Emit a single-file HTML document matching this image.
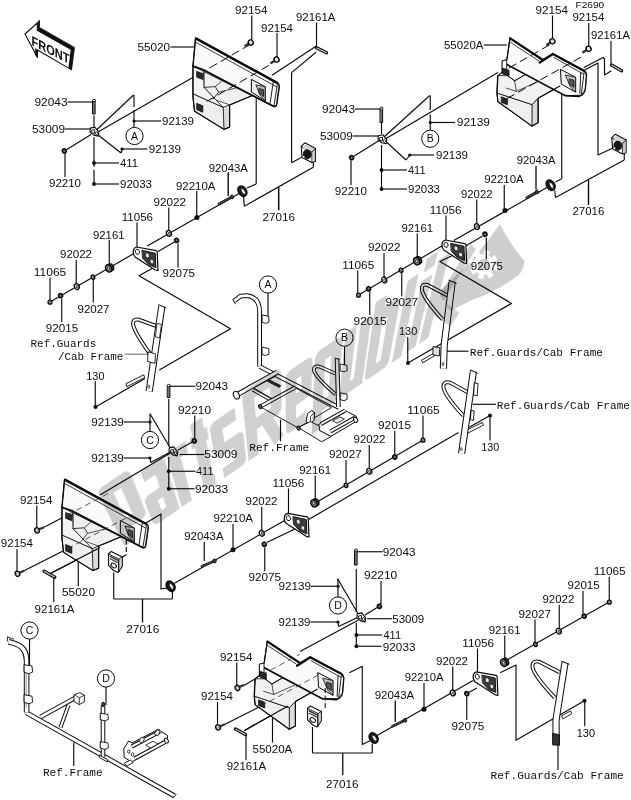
<!DOCTYPE html><html><head><meta charset="utf-8"><title>Parts diagram</title>
<style>html,body{margin:0;padding:0;background:#fff}body{position:relative;width:631px;height:800px;overflow:hidden}svg{display:block;filter:grayscale(1)}.s{font-family:"Liberation Sans",sans-serif;fill:#0c0c0c}.m{font-family:"Liberation Mono",monospace;fill:#0c0c0c}.w{font-family:"Liberation Sans",sans-serif;font-weight:bold;fill:#d2d2d2}</style></head><body>
<svg width="631" height="800" viewBox="0 0 631 800">
<rect width="631" height="800" fill="#fff"/>
<line x1="67.50" y1="102.00" x2="92.50" y2="102.00" stroke="#0a0a0a" stroke-width="1.15" />
<polygon points="92.90,100.50 95.10,100.50 95.10,114.00 92.90,114.00" fill="#777" stroke="#0a0a0a" stroke-width="1.0" stroke-linejoin="round" stroke-linecap="round" />
<ellipse cx="94.00" cy="100.50" rx="1.5" ry="1.2" transform="rotate(0 94.00 100.50)" fill="#fff" stroke="#0a0a0a" stroke-width="0.9"/>
<line x1="65.00" y1="129.00" x2="90.00" y2="129.00" stroke="#0a0a0a" stroke-width="1.15" />
<line x1="94.00" y1="115.50" x2="94.00" y2="127.00" stroke="#0a0a0a" stroke-width="1.15" />
<line x1="94.00" y1="137.00" x2="94.00" y2="167.00" stroke="#0a0a0a" stroke-width="1.15" />
<line x1="94.00" y1="169.80" x2="94.00" y2="184.00" stroke="#0a0a0a" stroke-width="1.15" />
<circle cx="94.00" cy="163.00" r="1.9" fill="#0a0a0a"/>
<circle cx="94.00" cy="184.00" r="1.9" fill="#0a0a0a"/>
<line x1="94.00" y1="163.00" x2="119.00" y2="163.00" stroke="#0a0a0a" stroke-width="1.15" />
<line x1="94.00" y1="184.00" x2="119.00" y2="184.00" stroke="#0a0a0a" stroke-width="1.15" />
<line x1="65.00" y1="154.00" x2="65.00" y2="177.00" stroke="#0a0a0a" stroke-width="1.15" />
<ellipse cx="64.30" cy="151.00" rx="1.8900000000000001" ry="2.1" transform="rotate(-25 64.30 151.00)" fill="#777" stroke="#0a0a0a" stroke-width="1.6"/>
<line x1="66.00" y1="150.00" x2="91.00" y2="134.50" stroke="#0a0a0a" stroke-width="1.15" />
<line x1="96.50" y1="130.00" x2="133.50" y2="95.00" stroke="#0a0a0a" stroke-width="1.15" />
<line x1="97.00" y1="132.50" x2="195.40" y2="76.00" stroke="#0a0a0a" stroke-width="1.15" />
<line x1="134.00" y1="95.00" x2="134.00" y2="107.00" stroke="#0a0a0a" stroke-width="1.15" />
<line x1="134.00" y1="110.00" x2="134.00" y2="127.40" stroke="#0a0a0a" stroke-width="1.15" />
<circle cx="134.00" cy="121.00" r="1.6" fill="#0a0a0a"/>
<line x1="134.00" y1="121.00" x2="161.00" y2="121.00" stroke="#0a0a0a" stroke-width="1.15" />
<line x1="97.50" y1="134.50" x2="121.00" y2="153.00" stroke="#0a0a0a" stroke-width="1.15" />
<line x1="121.00" y1="153.00" x2="122.00" y2="149.50" stroke="#0a0a0a" stroke-width="1.15" />
<circle cx="122.00" cy="149.00" r="1.6" fill="#0a0a0a"/>
<line x1="122.00" y1="149.00" x2="147.50" y2="149.00" stroke="#0a0a0a" stroke-width="1.15" />
<polygon points="90.30,128.10 94.80,127.10 98.80,132.10 98.30,136.10 93.80,135.10 90.10,132.10" fill="#fff" stroke="#0a0a0a" stroke-width="1.1" stroke-linejoin="round" stroke-linecap="round" />
<polygon points="92.10,130.10 94.60,129.60 94.60,133.40 92.10,132.80" fill="#fff" stroke="#0a0a0a" stroke-width="0.9" stroke-linejoin="round" stroke-linecap="round" />
<ellipse cx="96.50" cy="133.20" rx="1.1" ry="1.5" transform="rotate(0 96.50 133.20)" fill="#fff" stroke="#0a0a0a" stroke-width="0.8"/>
<line x1="170.50" y1="47.00" x2="195.50" y2="47.00" stroke="#0a0a0a" stroke-width="1.15" />
<line x1="251.75" y1="15.50" x2="251.75" y2="40.00" stroke="#0a0a0a" stroke-width="1.15" />
<line x1="249.30" y1="43.20" x2="244.80" y2="46.20" stroke="#333" stroke-width="2.0" />
<ellipse cx="250.80" cy="42.40" rx="2.3" ry="2.6" transform="rotate(-30 250.80 42.40)" fill="#e4e4e4" stroke="#0a0a0a" stroke-width="1.2"/>
<line x1="277.00" y1="33.00" x2="277.00" y2="57.00" stroke="#0a0a0a" stroke-width="1.15" />
<line x1="275.10" y1="60.40" x2="270.60" y2="63.40" stroke="#333" stroke-width="2.0" />
<ellipse cx="276.60" cy="59.60" rx="2.3" ry="2.6" transform="rotate(-30 276.60 59.60)" fill="#e4e4e4" stroke="#0a0a0a" stroke-width="1.2"/>
<line x1="316.50" y1="22.50" x2="316.50" y2="46.50" stroke="#0a0a0a" stroke-width="1.15" />
<line x1="316.50" y1="47.80" x2="326.50" y2="52.80" stroke="#0a0a0a" stroke-width="3.4" stroke-linecap="round"/>
<line x1="316.80" y1="48.00" x2="326.20" y2="52.60" stroke="#bdbdbd" stroke-width="1.3" stroke-linecap="round"/>
<line x1="316.00" y1="46.20" x2="272.00" y2="75.30" stroke="#0a0a0a" stroke-width="1.15" />
<line x1="316.00" y1="52.30" x2="291.60" y2="72.60" stroke="#0a0a0a" stroke-width="1.15" />
<line x1="291.60" y1="72.60" x2="291.60" y2="162.80" stroke="#0a0a0a" stroke-width="1.15" />
<line x1="291.60" y1="162.80" x2="301.20" y2="157.60" stroke="#0a0a0a" stroke-width="1.15" />
<line x1="256.20" y1="98.50" x2="256.20" y2="184.00" stroke="#0a0a0a" stroke-width="1.15" />
<line x1="256.20" y1="184.00" x2="247.00" y2="188.00" stroke="#0a0a0a" stroke-width="1.15" />
<line x1="313.30" y1="162.00" x2="313.30" y2="167.20" stroke="#0a0a0a" stroke-width="1.15" />
<line x1="313.30" y1="167.20" x2="244.30" y2="206.20" stroke="#0a0a0a" stroke-width="1.15" />
<line x1="244.30" y1="206.20" x2="243.60" y2="197.00" stroke="#0a0a0a" stroke-width="1.15" />
<line x1="278.70" y1="187.20" x2="278.70" y2="210.30" stroke="#0a0a0a" stroke-width="1.5" />
<line x1="228.20" y1="172.20" x2="228.20" y2="196.00" stroke="#0a0a0a" stroke-width="1.4" />
<line x1="238.50" y1="193.80" x2="147.20" y2="245.90" stroke="#0a0a0a" stroke-width="1.15" />
<ellipse cx="242.40" cy="191.20" rx="4.1" ry="5.6" transform="rotate(-32 242.40 191.20)" fill="#1c1c1c" stroke="#0a0a0a" stroke-width="1.4"/>
<ellipse cx="243.30" cy="191.40" rx="1.5" ry="3.3" transform="rotate(-32 243.30 191.40)" fill="#f4f4f4" stroke="#0a0a0a" stroke-width="0.6"/>
<line x1="219.00" y1="203.90" x2="231.50" y2="197.20" stroke="#222" stroke-width="2.8" stroke-linecap="round"/>
<line x1="219.00" y1="203.90" x2="231.50" y2="197.20" stroke="#999" stroke-width="0.8" stroke-dasharray="1 1.4"/>
<ellipse cx="232.10" cy="196.90" rx="1.6" ry="2.0" transform="rotate(-30 232.10 196.90)" fill="#444" stroke="#0a0a0a" stroke-width="0.8"/>
<line x1="196.75" y1="191.00" x2="196.75" y2="215.50" stroke="#0a0a0a" stroke-width="1.15" />
<circle cx="196.90" cy="217.50" r="2.5" fill="#0a0a0a"/>
<line x1="168.75" y1="207.50" x2="168.75" y2="230.50" stroke="#0a0a0a" stroke-width="1.15" />
<ellipse cx="168.90" cy="233.40" rx="2.34" ry="3.0" transform="rotate(-25 168.90 233.40)" fill="#fff" stroke="#0a0a0a" stroke-width="1.3"/>
<ellipse cx="169.30" cy="233.60" rx="0.8999999999999999" ry="1.35" transform="rotate(-25 169.30 233.60)" fill="#fff" stroke="#0a0a0a" stroke-width="0.8"/>
<line x1="174.50" y1="242.00" x2="158.00" y2="251.60" stroke="#0a0a0a" stroke-width="1.15" />
<ellipse cx="176.60" cy="240.40" rx="1.8900000000000001" ry="2.1" transform="rotate(-25 176.60 240.40)" fill="#777" stroke="#0a0a0a" stroke-width="1.6"/>
<line x1="178.00" y1="243.50" x2="178.00" y2="267.50" stroke="#0a0a0a" stroke-width="1.15" />
<line x1="137.00" y1="222.50" x2="137.00" y2="247.50" stroke="#0a0a0a" stroke-width="1.15" />
<line x1="133.90" y1="253.50" x2="50.00" y2="302.00" stroke="#0a0a0a" stroke-width="1.15" />
<line x1="109.25" y1="240.00" x2="109.25" y2="263.50" stroke="#0a0a0a" stroke-width="1.15" />
<ellipse cx="110.60" cy="267.30" rx="2.8" ry="3.8" transform="rotate(-25 110.60 267.30)" fill="#444" stroke="#0a0a0a" stroke-width="1.3"/>
<ellipse cx="108.60" cy="268.40" rx="2.8" ry="3.8" transform="rotate(-25 108.60 268.40)" fill="#8a8a8a" stroke="#0a0a0a" stroke-width="1.4"/>
<ellipse cx="108.60" cy="268.40" rx="1.1" ry="1.7" transform="rotate(-25 108.60 268.40)" fill="#e8e8e8" stroke="#0a0a0a" stroke-width="0.7"/>
<line x1="93.25" y1="279.50" x2="93.25" y2="302.50" stroke="#0a0a0a" stroke-width="1.15" />
<ellipse cx="93.00" cy="277.20" rx="1.7160000000000002" ry="2.2" transform="rotate(-25 93.00 277.20)" fill="#fff" stroke="#0a0a0a" stroke-width="1.3"/>
<ellipse cx="93.40" cy="277.40" rx="0.66" ry="0.9900000000000001" transform="rotate(-25 93.40 277.40)" fill="#fff" stroke="#0a0a0a" stroke-width="0.8"/>
<line x1="76.25" y1="260.00" x2="76.25" y2="283.50" stroke="#0a0a0a" stroke-width="1.15" />
<ellipse cx="76.80" cy="286.60" rx="2.34" ry="3.0" transform="rotate(-25 76.80 286.60)" fill="#fff" stroke="#0a0a0a" stroke-width="1.3"/>
<ellipse cx="77.20" cy="286.80" rx="0.8999999999999999" ry="1.35" transform="rotate(-25 77.20 286.80)" fill="#fff" stroke="#0a0a0a" stroke-width="0.8"/>
<line x1="61.75" y1="298.50" x2="61.75" y2="322.00" stroke="#0a0a0a" stroke-width="1.15" />
<ellipse cx="60.60" cy="295.60" rx="1.8900000000000001" ry="2.1" transform="rotate(-25 60.60 295.60)" fill="#777" stroke="#0a0a0a" stroke-width="1.6"/>
<line x1="50.00" y1="277.50" x2="50.00" y2="300.00" stroke="#0a0a0a" stroke-width="1.15" />
<ellipse cx="50.00" cy="302.20" rx="2.0" ry="2.0" transform="rotate(0 50.00 302.20)" fill="#888" stroke="#0a0a0a" stroke-width="1.2"/>
<polyline points="151.70,268.70 139.00,275.70 230.50,328.75 159.70,369.70" fill="none" stroke="#0a0a0a" stroke-width="1.15" stroke-linejoin="round" stroke-linecap="round" />
<line x1="124.70" y1="354.20" x2="148.30" y2="354.20" stroke="#777" stroke-width="1.15" />
<line x1="95.25" y1="381.25" x2="95.25" y2="406.00" stroke="#0a0a0a" stroke-width="1.15" />
<circle cx="95.50" cy="407.00" r="2.0" fill="#0a0a0a"/>
<line x1="95.50" y1="407.00" x2="145.00" y2="378.60" stroke="#0a0a0a" stroke-width="1.15" />
<line x1="355.00" y1="109.00" x2="380.00" y2="109.00" stroke="#0a0a0a" stroke-width="1.15" />
<polygon points="380.40,108.20 382.60,108.20 382.60,122.50 380.40,122.50" fill="#777" stroke="#0a0a0a" stroke-width="1.0" stroke-linejoin="round" stroke-linecap="round" />
<ellipse cx="381.50" cy="108.20" rx="1.5" ry="1.2" transform="rotate(0 381.50 108.20)" fill="#fff" stroke="#0a0a0a" stroke-width="0.9"/>
<line x1="352.75" y1="136.00" x2="378.00" y2="136.00" stroke="#0a0a0a" stroke-width="1.15" />
<line x1="381.50" y1="123.00" x2="381.50" y2="134.00" stroke="#0a0a0a" stroke-width="1.15" />
<line x1="381.50" y1="145.00" x2="381.50" y2="189.00" stroke="#0a0a0a" stroke-width="1.15" />
<circle cx="381.50" cy="170.00" r="1.9" fill="#0a0a0a"/>
<circle cx="381.50" cy="189.00" r="1.9" fill="#0a0a0a"/>
<line x1="381.50" y1="170.00" x2="407.00" y2="170.00" stroke="#0a0a0a" stroke-width="1.15" />
<line x1="381.50" y1="189.00" x2="407.00" y2="189.00" stroke="#0a0a0a" stroke-width="1.15" />
<line x1="351.00" y1="160.50" x2="351.00" y2="185.00" stroke="#0a0a0a" stroke-width="1.15" />
<ellipse cx="351.60" cy="157.60" rx="1.8900000000000001" ry="2.1" transform="rotate(-25 351.60 157.60)" fill="#777" stroke="#0a0a0a" stroke-width="1.6"/>
<line x1="353.50" y1="156.50" x2="379.50" y2="140.30" stroke="#0a0a0a" stroke-width="1.15" />
<line x1="384.00" y1="137.00" x2="429.75" y2="95.50" stroke="#0a0a0a" stroke-width="1.15" />
<line x1="385.20" y1="139.00" x2="498.00" y2="72.50" stroke="#0a0a0a" stroke-width="1.15" />
<line x1="430.25" y1="95.50" x2="430.25" y2="110.00" stroke="#0a0a0a" stroke-width="1.15" />
<line x1="430.25" y1="114.50" x2="430.25" y2="130.00" stroke="#0a0a0a" stroke-width="1.15" />
<circle cx="430.25" cy="122.50" r="1.6" fill="#0a0a0a"/>
<line x1="430.25" y1="122.50" x2="455.00" y2="122.50" stroke="#0a0a0a" stroke-width="1.15" />
<line x1="387.00" y1="142.50" x2="406.00" y2="160.00" stroke="#0a0a0a" stroke-width="1.15" />
<line x1="406.00" y1="160.00" x2="409.50" y2="155.50" stroke="#0a0a0a" stroke-width="1.15" />
<circle cx="409.75" cy="155.00" r="1.6" fill="#0a0a0a"/>
<line x1="409.75" y1="155.00" x2="434.00" y2="155.00" stroke="#0a0a0a" stroke-width="1.15" />
<polygon points="378.20,135.70 382.70,134.70 386.70,139.70 386.20,143.70 381.70,142.70 378.00,139.70" fill="#fff" stroke="#0a0a0a" stroke-width="1.1" stroke-linejoin="round" stroke-linecap="round" />
<polygon points="380.00,137.70 382.50,137.20 382.50,141.00 380.00,140.40" fill="#fff" stroke="#0a0a0a" stroke-width="0.9" stroke-linejoin="round" stroke-linecap="round" />
<ellipse cx="384.40" cy="140.80" rx="1.1" ry="1.5" transform="rotate(0 384.40 140.80)" fill="#fff" stroke="#0a0a0a" stroke-width="0.8"/>
<line x1="483.80" y1="45.00" x2="506.80" y2="45.00" stroke="#0a0a0a" stroke-width="1.15" />
<line x1="552.50" y1="15.50" x2="552.50" y2="38.50" stroke="#0a0a0a" stroke-width="1.15" />
<line x1="550.90" y1="42.10" x2="546.40" y2="45.10" stroke="#333" stroke-width="2.0" />
<ellipse cx="552.40" cy="41.30" rx="2.3" ry="2.6" transform="rotate(-30 552.40 41.30)" fill="#e4e4e4" stroke="#0a0a0a" stroke-width="1.2"/>
<line x1="588.75" y1="23.00" x2="588.75" y2="46.00" stroke="#0a0a0a" stroke-width="1.15" />
<line x1="587.10" y1="49.60" x2="582.60" y2="52.60" stroke="#333" stroke-width="2.0" />
<ellipse cx="588.60" cy="48.80" rx="2.3" ry="2.6" transform="rotate(-30 588.60 48.80)" fill="#e4e4e4" stroke="#0a0a0a" stroke-width="1.2"/>
<line x1="611.00" y1="41.00" x2="611.00" y2="63.50" stroke="#0a0a0a" stroke-width="1.15" />
<line x1="611.50" y1="65.00" x2="621.50" y2="70.80" stroke="#0a0a0a" stroke-width="3.4" stroke-linecap="round"/>
<line x1="611.80" y1="65.20" x2="621.20" y2="70.60" stroke="#bdbdbd" stroke-width="1.3" stroke-linecap="round"/>
<polyline points="584.00,67.50 603.00,57.50 604.50,59.00 604.50,75.00 611.00,71.00" fill="none" stroke="#0a0a0a" stroke-width="1.15" stroke-linejoin="round" stroke-linecap="round" />
<polyline points="585.00,69.70 598.00,63.00 598.00,155.00 612.50,148.30" fill="none" stroke="#0a0a0a" stroke-width="1.15" stroke-linejoin="round" stroke-linecap="round" />
<line x1="624.25" y1="153.75" x2="624.25" y2="160.00" stroke="#0a0a0a" stroke-width="1.15" />
<line x1="624.25" y1="160.00" x2="555.50" y2="197.50" stroke="#0a0a0a" stroke-width="1.15" />
<line x1="555.50" y1="197.50" x2="554.80" y2="190.50" stroke="#0a0a0a" stroke-width="1.15" />
<line x1="588.50" y1="179.80" x2="588.50" y2="205.00" stroke="#0a0a0a" stroke-width="1.4" />
<line x1="561.75" y1="90.00" x2="561.75" y2="178.75" stroke="#0a0a0a" stroke-width="1.15" />
<line x1="561.75" y1="178.75" x2="555.50" y2="182.00" stroke="#0a0a0a" stroke-width="1.15" />
<line x1="536.00" y1="166.00" x2="536.00" y2="189.50" stroke="#0a0a0a" stroke-width="1.3" />
<line x1="546.50" y1="187.70" x2="453.80" y2="240.50" stroke="#0a0a0a" stroke-width="1.15" />
<ellipse cx="550.60" cy="185.20" rx="4.1" ry="5.6" transform="rotate(-32 550.60 185.20)" fill="#1c1c1c" stroke="#0a0a0a" stroke-width="1.4"/>
<ellipse cx="551.50" cy="185.40" rx="1.5" ry="3.3" transform="rotate(-32 551.50 185.40)" fill="#f4f4f4" stroke="#0a0a0a" stroke-width="0.6"/>
<line x1="526.80" y1="197.60" x2="536.50" y2="192.20" stroke="#222" stroke-width="2.8" stroke-linecap="round"/>
<line x1="526.80" y1="197.60" x2="536.50" y2="192.20" stroke="#999" stroke-width="0.8" stroke-dasharray="1 1.4"/>
<ellipse cx="537.10" cy="191.90" rx="1.6" ry="2.0" transform="rotate(-30 537.10 191.90)" fill="#444" stroke="#0a0a0a" stroke-width="0.8"/>
<line x1="504.25" y1="185.00" x2="504.25" y2="208.50" stroke="#0a0a0a" stroke-width="1.15" />
<circle cx="505.00" cy="210.40" r="2.5" fill="#0a0a0a"/>
<line x1="476.75" y1="199.50" x2="476.75" y2="223.50" stroke="#0a0a0a" stroke-width="1.15" />
<ellipse cx="476.90" cy="226.60" rx="2.34" ry="3.0" transform="rotate(-25 476.90 226.60)" fill="#fff" stroke="#0a0a0a" stroke-width="1.3"/>
<ellipse cx="477.30" cy="226.80" rx="0.8999999999999999" ry="1.35" transform="rotate(-25 477.30 226.80)" fill="#fff" stroke="#0a0a0a" stroke-width="0.8"/>
<line x1="482.70" y1="236.00" x2="466.00" y2="245.70" stroke="#0a0a0a" stroke-width="1.15" />
<ellipse cx="485.00" cy="234.20" rx="1.8900000000000001" ry="2.1" transform="rotate(-25 485.00 234.20)" fill="#777" stroke="#0a0a0a" stroke-width="1.6"/>
<line x1="486.30" y1="237.50" x2="486.30" y2="259.50" stroke="#0a0a0a" stroke-width="1.15" />
<line x1="446.00" y1="215.50" x2="446.00" y2="240.00" stroke="#0a0a0a" stroke-width="1.15" />
<line x1="443.50" y1="245.00" x2="358.50" y2="295.00" stroke="#0a0a0a" stroke-width="1.15" />
<line x1="417.25" y1="233.50" x2="417.25" y2="257.00" stroke="#0a0a0a" stroke-width="1.15" />
<ellipse cx="418.60" cy="260.10" rx="2.8" ry="3.8" transform="rotate(-25 418.60 260.10)" fill="#444" stroke="#0a0a0a" stroke-width="1.3"/>
<ellipse cx="416.60" cy="261.20" rx="2.8" ry="3.8" transform="rotate(-25 416.60 261.20)" fill="#8a8a8a" stroke="#0a0a0a" stroke-width="1.4"/>
<ellipse cx="416.60" cy="261.20" rx="1.1" ry="1.7" transform="rotate(-25 416.60 261.20)" fill="#e8e8e8" stroke="#0a0a0a" stroke-width="0.7"/>
<line x1="401.75" y1="272.50" x2="401.75" y2="296.25" stroke="#0a0a0a" stroke-width="1.15" />
<ellipse cx="401.10" cy="270.40" rx="1.7160000000000002" ry="2.2" transform="rotate(-25 401.10 270.40)" fill="#fff" stroke="#0a0a0a" stroke-width="1.3"/>
<ellipse cx="401.50" cy="270.60" rx="0.66" ry="0.9900000000000001" transform="rotate(-25 401.50 270.60)" fill="#fff" stroke="#0a0a0a" stroke-width="0.8"/>
<line x1="384.00" y1="253.00" x2="384.00" y2="277.00" stroke="#0a0a0a" stroke-width="1.15" />
<ellipse cx="384.30" cy="280.00" rx="2.34" ry="3.0" transform="rotate(-25 384.30 280.00)" fill="#fff" stroke="#0a0a0a" stroke-width="1.3"/>
<ellipse cx="384.70" cy="280.20" rx="0.8999999999999999" ry="1.35" transform="rotate(-25 384.70 280.20)" fill="#fff" stroke="#0a0a0a" stroke-width="0.8"/>
<line x1="369.75" y1="291.50" x2="369.75" y2="315.00" stroke="#0a0a0a" stroke-width="1.15" />
<ellipse cx="368.60" cy="288.80" rx="1.8900000000000001" ry="2.1" transform="rotate(-25 368.60 288.80)" fill="#777" stroke="#0a0a0a" stroke-width="1.6"/>
<line x1="357.75" y1="270.50" x2="357.75" y2="293.00" stroke="#0a0a0a" stroke-width="1.15" />
<ellipse cx="358.50" cy="295.20" rx="2.0" ry="2.0" transform="rotate(0 358.50 295.20)" fill="#888" stroke="#0a0a0a" stroke-width="1.2"/>
<polyline points="453.00,255.30 439.90,261.40 511.50,303.40 408.30,362.80" fill="none" stroke="#0a0a0a" stroke-width="1.15" stroke-linejoin="round" stroke-linecap="round" />
<line x1="447.00" y1="351.20" x2="468.50" y2="351.20" stroke="#0a0a0a" stroke-width="1.15" />
<line x1="407.75" y1="337.00" x2="407.75" y2="361.50" stroke="#0a0a0a" stroke-width="1.15" />
<circle cx="408.00" cy="363.00" r="2.0" fill="#0a0a0a"/>
<polygon points="167.65,385.50 169.85,385.50 169.85,397.50 167.65,397.50" fill="#777" stroke="#0a0a0a" stroke-width="1.0" stroke-linejoin="round" stroke-linecap="round" />
<ellipse cx="168.75" cy="385.50" rx="1.5" ry="1.2" transform="rotate(0 168.75 385.50)" fill="#fff" stroke="#0a0a0a" stroke-width="0.9"/>
<line x1="170.00" y1="386.25" x2="195.50" y2="386.25" stroke="#0a0a0a" stroke-width="1.15" />
<line x1="168.75" y1="399.00" x2="168.75" y2="446.00" stroke="#0a0a0a" stroke-width="1.15" />
<line x1="168.75" y1="457.00" x2="168.75" y2="488.75" stroke="#0a0a0a" stroke-width="1.15" />
<circle cx="168.75" cy="471.25" r="1.9" fill="#0a0a0a"/>
<circle cx="168.75" cy="488.75" r="1.9" fill="#0a0a0a"/>
<line x1="168.75" y1="471.25" x2="195.50" y2="471.25" stroke="#0a0a0a" stroke-width="1.15" />
<line x1="168.75" y1="488.75" x2="194.50" y2="488.75" stroke="#0a0a0a" stroke-width="1.15" />
<line x1="179.50" y1="454.50" x2="204.25" y2="454.50" stroke="#0a0a0a" stroke-width="1.15" />
<line x1="194.75" y1="415.50" x2="194.75" y2="438.50" stroke="#0a0a0a" stroke-width="1.15" />
<ellipse cx="194.30" cy="440.80" rx="1.8900000000000001" ry="2.1" transform="rotate(-25 194.30 440.80)" fill="#777" stroke="#0a0a0a" stroke-width="1.6"/>
<line x1="192.20" y1="442.00" x2="178.00" y2="450.00" stroke="#0a0a0a" stroke-width="1.15" />
<line x1="123.75" y1="422.00" x2="150.00" y2="422.00" stroke="#0a0a0a" stroke-width="1.15" />
<circle cx="150.00" cy="422.00" r="1.6" fill="#0a0a0a"/>
<line x1="150.00" y1="413.75" x2="150.00" y2="431.40" stroke="#0a0a0a" stroke-width="1.15" />
<line x1="150.00" y1="413.75" x2="170.50" y2="448.50" stroke="#0a0a0a" stroke-width="1.15" />
<line x1="123.75" y1="458.00" x2="150.00" y2="458.00" stroke="#0a0a0a" stroke-width="1.15" />
<circle cx="150.00" cy="458.00" r="1.6" fill="#0a0a0a"/>
<line x1="150.00" y1="458.00" x2="150.80" y2="462.60" stroke="#0a0a0a" stroke-width="1.15" />
<line x1="150.80" y1="462.60" x2="169.00" y2="452.80" stroke="#0a0a0a" stroke-width="1.15" />
<line x1="170.00" y1="453.30" x2="100.00" y2="495.00" stroke="#0a0a0a" stroke-width="1.15" />
<polygon points="169.20,447.90 173.70,446.90 177.70,451.90 177.20,455.90 172.70,454.90 169.00,451.90" fill="#fff" stroke="#0a0a0a" stroke-width="1.1" stroke-linejoin="round" stroke-linecap="round" />
<polygon points="171.00,449.90 173.50,449.40 173.50,453.20 171.00,452.60" fill="#fff" stroke="#0a0a0a" stroke-width="0.9" stroke-linejoin="round" stroke-linecap="round" />
<ellipse cx="175.40" cy="453.00" rx="1.1" ry="1.5" transform="rotate(0 175.40 453.00)" fill="#fff" stroke="#0a0a0a" stroke-width="0.8"/>
<polyline points="146.00,523.00 161.00,514.00 161.00,588.90 167.00,588.00" fill="none" stroke="#0a0a0a" stroke-width="1.15" stroke-linejoin="round" stroke-linecap="round" />
<line x1="36.75" y1="505.50" x2="36.75" y2="527.50" stroke="#0a0a0a" stroke-width="1.15" />
<line x1="38.50" y1="529.60" x2="44.00" y2="527.20" stroke="#333" stroke-width="2.2" />
<ellipse cx="37.00" cy="530.40" rx="2.3" ry="2.7" transform="rotate(-25 37.00 530.40)" fill="#bbb" stroke="#0a0a0a" stroke-width="1.3"/>
<line x1="44.00" y1="527.20" x2="67.50" y2="515.00" stroke="#0a0a0a" stroke-width="1.15" />
<line x1="17.00" y1="549.00" x2="17.00" y2="571.00" stroke="#0a0a0a" stroke-width="1.15" />
<line x1="19.00" y1="573.00" x2="24.50" y2="570.60" stroke="#333" stroke-width="2.2" />
<ellipse cx="17.50" cy="573.80" rx="2.3" ry="2.7" transform="rotate(-25 17.50 573.80)" fill="#bbb" stroke="#0a0a0a" stroke-width="1.3"/>
<line x1="24.50" y1="570.50" x2="67.50" y2="548.75" stroke="#0a0a0a" stroke-width="1.15" />
<line x1="44.20" y1="571.20" x2="54.80" y2="577.20" stroke="#0a0a0a" stroke-width="3.4" stroke-linecap="round"/>
<line x1="44.50" y1="571.40" x2="54.50" y2="577.00" stroke="#bdbdbd" stroke-width="1.3" stroke-linecap="round"/>
<line x1="53.75" y1="578.00" x2="53.75" y2="602.00" stroke="#0a0a0a" stroke-width="1.15" />
<line x1="50.00" y1="573.80" x2="95.00" y2="550.50" stroke="#0a0a0a" stroke-width="1.15" />
<line x1="78.25" y1="560.00" x2="78.25" y2="586.25" stroke="#0a0a0a" stroke-width="1.15" />
<line x1="113.75" y1="572.50" x2="113.75" y2="599.00" stroke="#0a0a0a" stroke-width="1.15" />
<line x1="113.75" y1="599.00" x2="172.40" y2="599.00" stroke="#0a0a0a" stroke-width="1.15" />
<line x1="172.40" y1="599.00" x2="172.40" y2="592.00" stroke="#0a0a0a" stroke-width="1.15" />
<line x1="142.50" y1="599.00" x2="142.50" y2="622.50" stroke="#0a0a0a" stroke-width="1.3" />
<line x1="126.30" y1="532.00" x2="126.30" y2="554.70" stroke="#0a0a0a" stroke-width="1.15" stroke-dasharray="5 2.5"/>
<line x1="126.30" y1="554.70" x2="122.40" y2="557.00" stroke="#0a0a0a" stroke-width="1.15" />
<line x1="174.50" y1="583.20" x2="285.50" y2="520.00" stroke="#0a0a0a" stroke-width="1.15" />
<ellipse cx="170.60" cy="586.20" rx="4.1" ry="5.6" transform="rotate(-32 170.60 586.20)" fill="#1c1c1c" stroke="#0a0a0a" stroke-width="1.4"/>
<ellipse cx="171.50" cy="586.40" rx="1.5" ry="3.3" transform="rotate(-32 171.50 586.40)" fill="#f4f4f4" stroke="#0a0a0a" stroke-width="0.6"/>
<line x1="202.00" y1="566.20" x2="214.00" y2="561.20" stroke="#222" stroke-width="2.8" stroke-linecap="round"/>
<line x1="202.00" y1="566.20" x2="214.00" y2="561.20" stroke="#999" stroke-width="0.8" stroke-dasharray="1 1.4"/>
<ellipse cx="214.60" cy="560.90" rx="1.6" ry="2.0" transform="rotate(-30 214.60 560.90)" fill="#444" stroke="#0a0a0a" stroke-width="0.8"/>
<line x1="204.25" y1="542.00" x2="204.25" y2="561.00" stroke="#0a0a0a" stroke-width="1.15" />
<line x1="233.00" y1="524.00" x2="233.00" y2="547.50" stroke="#0a0a0a" stroke-width="1.15" />
<circle cx="233.00" cy="549.80" r="2.5" fill="#0a0a0a"/>
<line x1="261.75" y1="507.00" x2="261.75" y2="530.00" stroke="#0a0a0a" stroke-width="1.15" />
<ellipse cx="261.80" cy="533.30" rx="2.34" ry="3.0" transform="rotate(-25 261.80 533.30)" fill="#fff" stroke="#0a0a0a" stroke-width="1.3"/>
<ellipse cx="262.20" cy="533.50" rx="0.8999999999999999" ry="1.35" transform="rotate(-25 262.20 533.50)" fill="#fff" stroke="#0a0a0a" stroke-width="0.8"/>
<line x1="264.75" y1="547.50" x2="264.75" y2="571.25" stroke="#0a0a0a" stroke-width="1.15" />
<ellipse cx="264.30" cy="544.30" rx="1.8900000000000001" ry="2.1" transform="rotate(-25 264.30 544.30)" fill="#777" stroke="#0a0a0a" stroke-width="1.6"/>
<line x1="266.75" y1="542.50" x2="298.00" y2="527.50" stroke="#0a0a0a" stroke-width="1.15" />
<line x1="288.50" y1="488.50" x2="288.50" y2="513.75" stroke="#0a0a0a" stroke-width="1.15" />
<line x1="315.25" y1="475.50" x2="315.25" y2="499.00" stroke="#0a0a0a" stroke-width="1.15" />
<ellipse cx="315.90" cy="502.30" rx="2.8" ry="3.8" transform="rotate(-25 315.90 502.30)" fill="#444" stroke="#0a0a0a" stroke-width="1.3"/>
<ellipse cx="313.90" cy="503.40" rx="2.8" ry="3.8" transform="rotate(-25 313.90 503.40)" fill="#8a8a8a" stroke="#0a0a0a" stroke-width="1.4"/>
<ellipse cx="313.90" cy="503.40" rx="1.1" ry="1.7" transform="rotate(-25 313.90 503.40)" fill="#e8e8e8" stroke="#0a0a0a" stroke-width="0.7"/>
<line x1="317.00" y1="502.00" x2="423.00" y2="440.00" stroke="#0a0a0a" stroke-width="1.15" />
<line x1="346.00" y1="460.00" x2="346.00" y2="483.50" stroke="#0a0a0a" stroke-width="1.15" />
<ellipse cx="346.00" cy="485.40" rx="1.7160000000000002" ry="2.2" transform="rotate(-25 346.00 485.40)" fill="#fff" stroke="#0a0a0a" stroke-width="1.3"/>
<ellipse cx="346.40" cy="485.60" rx="0.66" ry="0.9900000000000001" transform="rotate(-25 346.40 485.60)" fill="#fff" stroke="#0a0a0a" stroke-width="0.8"/>
<line x1="369.25" y1="445.00" x2="369.25" y2="468.50" stroke="#0a0a0a" stroke-width="1.15" />
<ellipse cx="369.30" cy="471.30" rx="2.34" ry="3.0" transform="rotate(-25 369.30 471.30)" fill="#fff" stroke="#0a0a0a" stroke-width="1.3"/>
<ellipse cx="369.70" cy="471.50" rx="0.8999999999999999" ry="1.35" transform="rotate(-25 369.70 471.50)" fill="#fff" stroke="#0a0a0a" stroke-width="0.8"/>
<line x1="394.75" y1="431.00" x2="394.75" y2="454.50" stroke="#0a0a0a" stroke-width="1.15" />
<ellipse cx="394.80" cy="457.00" rx="1.8900000000000001" ry="2.1" transform="rotate(-25 394.80 457.00)" fill="#777" stroke="#0a0a0a" stroke-width="1.6"/>
<line x1="423.00" y1="415.50" x2="423.00" y2="438.50" stroke="#0a0a0a" stroke-width="1.15" />
<ellipse cx="423.00" cy="440.20" rx="2.0" ry="2.0" transform="rotate(0 423.00 440.20)" fill="#888" stroke="#0a0a0a" stroke-width="1.2"/>
<line x1="306.00" y1="521.00" x2="458.50" y2="432.50" stroke="#0a0a0a" stroke-width="1.15" />
<line x1="472.80" y1="404.30" x2="496.00" y2="404.30" stroke="#0a0a0a" stroke-width="1.15" />
<circle cx="490.00" cy="415.50" r="2.0" fill="#0a0a0a"/>
<line x1="490.00" y1="415.50" x2="490.00" y2="440.50" stroke="#0a0a0a" stroke-width="1.15" />
<line x1="490.00" y1="415.50" x2="468.80" y2="427.50" stroke="#0a0a0a" stroke-width="1.15" />
<polygon points="354.90,550.20 357.10,550.20 357.10,565.00 354.90,565.00" fill="#777" stroke="#0a0a0a" stroke-width="1.0" stroke-linejoin="round" stroke-linecap="round" />
<ellipse cx="356.00" cy="550.20" rx="1.5" ry="1.2" transform="rotate(0 356.00 550.20)" fill="#fff" stroke="#0a0a0a" stroke-width="0.9"/>
<line x1="357.25" y1="551.75" x2="382.75" y2="551.75" stroke="#0a0a0a" stroke-width="1.15" />
<line x1="356.30" y1="569.00" x2="356.30" y2="612.00" stroke="#0a0a0a" stroke-width="1.15" />
<line x1="356.30" y1="623.00" x2="356.30" y2="646.25" stroke="#0a0a0a" stroke-width="1.15" />
<circle cx="356.40" cy="635.00" r="1.9" fill="#0a0a0a"/>
<circle cx="356.40" cy="646.25" r="1.9" fill="#0a0a0a"/>
<line x1="356.40" y1="635.00" x2="382.25" y2="635.00" stroke="#0a0a0a" stroke-width="1.15" />
<line x1="356.40" y1="646.25" x2="381.50" y2="646.25" stroke="#0a0a0a" stroke-width="1.15" />
<line x1="367.25" y1="618.75" x2="392.00" y2="618.75" stroke="#0a0a0a" stroke-width="1.15" />
<line x1="381.00" y1="581.00" x2="381.00" y2="604.00" stroke="#0a0a0a" stroke-width="1.15" />
<ellipse cx="379.40" cy="606.30" rx="1.8900000000000001" ry="2.1" transform="rotate(-25 379.40 606.30)" fill="#777" stroke="#0a0a0a" stroke-width="1.6"/>
<line x1="377.20" y1="607.60" x2="365.00" y2="615.00" stroke="#0a0a0a" stroke-width="1.15" />
<line x1="311.00" y1="586.25" x2="338.00" y2="586.25" stroke="#0a0a0a" stroke-width="1.15" />
<circle cx="338.00" cy="586.25" r="1.6" fill="#0a0a0a"/>
<line x1="338.00" y1="578.75" x2="338.00" y2="596.90" stroke="#0a0a0a" stroke-width="1.15" />
<line x1="337.60" y1="578.75" x2="358.50" y2="614.50" stroke="#0a0a0a" stroke-width="1.15" />
<line x1="310.50" y1="622.00" x2="338.00" y2="622.00" stroke="#0a0a0a" stroke-width="1.15" />
<circle cx="338.00" cy="622.00" r="1.6" fill="#0a0a0a"/>
<line x1="338.00" y1="622.00" x2="338.60" y2="626.40" stroke="#0a0a0a" stroke-width="1.15" />
<line x1="338.60" y1="626.40" x2="357.50" y2="617.60" stroke="#0a0a0a" stroke-width="1.15" />
<line x1="358.50" y1="620.00" x2="300.00" y2="651.50" stroke="#0a0a0a" stroke-width="1.15" />
<polygon points="357.20,613.90 361.70,612.90 365.70,617.90 365.20,621.90 360.70,620.90 357.00,617.90" fill="#fff" stroke="#0a0a0a" stroke-width="1.1" stroke-linejoin="round" stroke-linecap="round" />
<polygon points="359.00,615.90 361.50,615.40 361.50,619.20 359.00,618.60" fill="#fff" stroke="#0a0a0a" stroke-width="0.9" stroke-linejoin="round" stroke-linecap="round" />
<ellipse cx="363.40" cy="619.00" rx="1.1" ry="1.5" transform="rotate(0 363.40 619.00)" fill="#fff" stroke="#0a0a0a" stroke-width="0.8"/>
<line x1="236.75" y1="662.50" x2="236.75" y2="685.00" stroke="#0a0a0a" stroke-width="1.15" />
<line x1="238.90" y1="687.20" x2="244.40" y2="684.80" stroke="#333" stroke-width="2.2" />
<ellipse cx="237.40" cy="688.00" rx="2.3" ry="2.7" transform="rotate(-25 237.40 688.00)" fill="#bbb" stroke="#0a0a0a" stroke-width="1.3"/>
<line x1="244.40" y1="685.20" x2="261.75" y2="675.00" stroke="#0a0a0a" stroke-width="1.15" />
<line x1="217.50" y1="702.00" x2="217.50" y2="723.75" stroke="#0a0a0a" stroke-width="1.15" />
<line x1="219.50" y1="726.60" x2="225.00" y2="724.20" stroke="#333" stroke-width="2.2" />
<ellipse cx="218.00" cy="727.40" rx="2.3" ry="2.7" transform="rotate(-25 218.00 727.40)" fill="#bbb" stroke="#0a0a0a" stroke-width="1.3"/>
<line x1="225.00" y1="724.20" x2="260.50" y2="706.25" stroke="#0a0a0a" stroke-width="1.15" />
<line x1="235.50" y1="729.00" x2="245.50" y2="734.60" stroke="#0a0a0a" stroke-width="3.4" stroke-linecap="round"/>
<line x1="235.80" y1="729.20" x2="245.20" y2="734.40" stroke="#bdbdbd" stroke-width="1.3" stroke-linecap="round"/>
<line x1="246.00" y1="735.50" x2="246.00" y2="760.00" stroke="#0a0a0a" stroke-width="1.15" />
<line x1="244.50" y1="730.50" x2="288.00" y2="706.00" stroke="#0a0a0a" stroke-width="1.15" />
<line x1="272.50" y1="717.50" x2="272.50" y2="742.50" stroke="#0a0a0a" stroke-width="1.15" />
<polyline points="349.75,672.50 362.25,666.25 362.25,744.50 369.50,741.00" fill="none" stroke="#0a0a0a" stroke-width="1.15" stroke-linejoin="round" stroke-linecap="round" />
<line x1="312.50" y1="727.00" x2="312.50" y2="753.00" stroke="#0a0a0a" stroke-width="1.15" />
<line x1="312.50" y1="753.00" x2="372.25" y2="753.00" stroke="#0a0a0a" stroke-width="1.15" />
<line x1="372.25" y1="753.00" x2="372.25" y2="743.50" stroke="#0a0a0a" stroke-width="1.15" />
<line x1="342.75" y1="753.00" x2="342.75" y2="775.00" stroke="#0a0a0a" stroke-width="1.3" />
<line x1="377.00" y1="735.60" x2="473.00" y2="680.50" stroke="#0a0a0a" stroke-width="1.15" />
<ellipse cx="373.60" cy="738.00" rx="4.1" ry="5.6" transform="rotate(-32 373.60 738.00)" fill="#1c1c1c" stroke="#0a0a0a" stroke-width="1.4"/>
<ellipse cx="374.50" cy="738.20" rx="1.5" ry="3.3" transform="rotate(-32 374.50 738.20)" fill="#f4f4f4" stroke="#0a0a0a" stroke-width="0.6"/>
<line x1="392.50" y1="726.20" x2="404.50" y2="720.60" stroke="#222" stroke-width="2.8" stroke-linecap="round"/>
<line x1="392.50" y1="726.20" x2="404.50" y2="720.60" stroke="#999" stroke-width="0.8" stroke-dasharray="1 1.4"/>
<ellipse cx="405.10" cy="720.30" rx="1.6" ry="2.0" transform="rotate(-30 405.10 720.30)" fill="#444" stroke="#0a0a0a" stroke-width="0.8"/>
<line x1="395.25" y1="700.50" x2="395.25" y2="722.00" stroke="#0a0a0a" stroke-width="1.3" />
<line x1="424.00" y1="683.00" x2="424.00" y2="707.50" stroke="#0a0a0a" stroke-width="1.15" />
<circle cx="424.00" cy="709.30" r="2.5" fill="#0a0a0a"/>
<line x1="452.75" y1="666.50" x2="452.75" y2="690.00" stroke="#0a0a0a" stroke-width="1.15" />
<ellipse cx="452.80" cy="693.00" rx="2.34" ry="3.0" transform="rotate(-25 452.80 693.00)" fill="#fff" stroke="#0a0a0a" stroke-width="1.3"/>
<ellipse cx="453.20" cy="693.20" rx="0.8999999999999999" ry="1.35" transform="rotate(-25 453.20 693.20)" fill="#fff" stroke="#0a0a0a" stroke-width="0.8"/>
<line x1="466.75" y1="696.25" x2="466.75" y2="720.00" stroke="#0a0a0a" stroke-width="1.15" />
<ellipse cx="466.80" cy="693.70" rx="1.8900000000000001" ry="2.1" transform="rotate(-25 466.80 693.70)" fill="#777" stroke="#0a0a0a" stroke-width="1.6"/>
<line x1="469.00" y1="692.30" x2="477.00" y2="688.00" stroke="#0a0a0a" stroke-width="1.15" />
<line x1="477.50" y1="648.50" x2="477.50" y2="673.75" stroke="#0a0a0a" stroke-width="1.15" />
<line x1="500.00" y1="664.00" x2="609.25" y2="602.00" stroke="#0a0a0a" stroke-width="1.15" />
<line x1="504.75" y1="635.50" x2="504.75" y2="658.50" stroke="#0a0a0a" stroke-width="1.15" />
<ellipse cx="505.60" cy="661.70" rx="2.8" ry="3.8" transform="rotate(-25 505.60 661.70)" fill="#444" stroke="#0a0a0a" stroke-width="1.3"/>
<ellipse cx="503.60" cy="662.80" rx="2.8" ry="3.8" transform="rotate(-25 503.60 662.80)" fill="#8a8a8a" stroke="#0a0a0a" stroke-width="1.4"/>
<ellipse cx="503.60" cy="662.80" rx="1.1" ry="1.7" transform="rotate(-25 503.60 662.80)" fill="#e8e8e8" stroke="#0a0a0a" stroke-width="0.7"/>
<line x1="535.00" y1="619.50" x2="535.00" y2="642.50" stroke="#0a0a0a" stroke-width="1.15" />
<ellipse cx="535.50" cy="644.40" rx="1.7160000000000002" ry="2.2" transform="rotate(-25 535.50 644.40)" fill="#fff" stroke="#0a0a0a" stroke-width="1.3"/>
<ellipse cx="535.90" cy="644.60" rx="0.66" ry="0.9900000000000001" transform="rotate(-25 535.90 644.60)" fill="#fff" stroke="#0a0a0a" stroke-width="0.8"/>
<line x1="559.25" y1="605.00" x2="559.25" y2="628.50" stroke="#0a0a0a" stroke-width="1.15" />
<ellipse cx="558.80" cy="631.20" rx="2.34" ry="3.0" transform="rotate(-25 558.80 631.20)" fill="#fff" stroke="#0a0a0a" stroke-width="1.3"/>
<ellipse cx="559.20" cy="631.40" rx="0.8999999999999999" ry="1.35" transform="rotate(-25 559.20 631.40)" fill="#fff" stroke="#0a0a0a" stroke-width="0.8"/>
<line x1="583.00" y1="591.00" x2="583.00" y2="613.50" stroke="#0a0a0a" stroke-width="1.15" />
<ellipse cx="584.20" cy="616.20" rx="1.8900000000000001" ry="2.1" transform="rotate(-25 584.20 616.20)" fill="#777" stroke="#0a0a0a" stroke-width="1.6"/>
<line x1="609.25" y1="577.00" x2="609.25" y2="600.00" stroke="#0a0a0a" stroke-width="1.15" />
<ellipse cx="609.30" cy="602.20" rx="2.0" ry="2.0" transform="rotate(0 609.30 602.20)" fill="#888" stroke="#0a0a0a" stroke-width="1.2"/>
<polyline points="500.50,672.50 516.00,665.00 516.00,740.20 584.40,700.80" fill="none" stroke="#0a0a0a" stroke-width="1.15" stroke-linejoin="round" stroke-linecap="round" />
<circle cx="584.50" cy="700.80" r="2.0" fill="#0a0a0a"/>
<line x1="584.75" y1="701.00" x2="584.75" y2="726.25" stroke="#0a0a0a" stroke-width="1.15" />
<line x1="558.00" y1="746.00" x2="558.00" y2="770.00" stroke="#0a0a0a" stroke-width="1.15" />
<line x1="268.00" y1="293.20" x2="268.00" y2="318.00" stroke="#0a0a0a" stroke-width="1.15" />
<line x1="344.50" y1="346.30" x2="344.50" y2="368.40" stroke="#0a0a0a" stroke-width="1.15" />
<line x1="280.50" y1="419.70" x2="280.50" y2="441.30" stroke="#0a0a0a" stroke-width="1.15" />
<line x1="29.50" y1="639.10" x2="29.50" y2="665.00" stroke="#0a0a0a" stroke-width="1.15" />
<line x1="106.00" y1="687.10" x2="106.00" y2="705.00" stroke="#0a0a0a" stroke-width="1.15" />
<line x1="73.75" y1="742.50" x2="73.75" y2="766.00" stroke="#0a0a0a" stroke-width="1.15" />
<polygon points="195.80,38.00 277.60,82.70 279.00,85.50 276.10,106.80 273.90,106.50 252.50,95.40 229.60,104.90 229.60,127.10 224.00,129.40 194.70,111.20 193.10,98.50 193.10,66.10" fill="#fff" stroke="#0a0a0a" stroke-width="0.8" stroke-linejoin="round" stroke-linecap="round" />
<polygon points="223.20,107.30 229.60,104.90 229.60,127.10 224.00,129.40" fill="#dcdcdc" stroke="#0a0a0a" stroke-width="0.8" stroke-linejoin="round" stroke-linecap="round" />
<polygon points="193.10,93.80 223.20,107.30 224.00,129.40 194.70,111.20" fill="#efefef" stroke="#0a0a0a" stroke-width="0.8" stroke-linejoin="round" stroke-linecap="round" />
<polygon points="193.10,66.10 203.40,69.70 204.20,87.40 216.10,100.10 223.20,107.30 193.10,93.80" fill="#f3f3f3" stroke="#0a0a0a" stroke-width="0.8" stroke-linejoin="round" stroke-linecap="round" />
<polygon points="204.20,70.00 204.20,87.40 216.10,100.10 229.60,104.90 252.50,95.40 225.80,82.00" fill="#efefef" stroke="#0a0a0a" stroke-width="0.7" stroke-linejoin="round" stroke-linecap="round" />
<polyline points="204.20,87.40 215.30,86.60 218.50,92.20 212.90,99.30" fill="none" stroke="#0a0a0a" stroke-width="0.8" stroke-linejoin="round" stroke-linecap="round" />
<line x1="215.30" y1="86.60" x2="221.80" y2="81.00" stroke="#0a0a0a" stroke-width="0.7" />
<line x1="218.50" y1="92.20" x2="235.80" y2="88.00" stroke="#0a0a0a" stroke-width="0.7" />
<polygon points="195.80,38.00 277.60,82.70 273.90,106.50 193.10,66.10" fill="#fafafa" stroke="#0a0a0a" stroke-width="0.9" stroke-linejoin="round" stroke-linecap="round" />
<polyline points="195.80,42.30 276.70,86.90" fill="none" stroke="#0a0a0a" stroke-width="0.8" stroke-linejoin="round" stroke-linecap="round" />
<line x1="195.80" y1="38.40" x2="277.60" y2="83.10" stroke="#0a0a0a" stroke-width="2.4" />
<polyline points="193.10,66.10 203.40,69.70 252.50,95.40 273.90,106.50" fill="none" stroke="#0a0a0a" stroke-width="1.7" stroke-linejoin="round" stroke-linecap="round" />
<path d="M277.6,82.7 q2.4,1.4 1.6,6 l-2.2,15 q-0.6,3 -3.1,2.8" fill="none" stroke="#0a0a0a" stroke-width="1.1" stroke-linejoin="round" stroke-linecap="round" />
<line x1="273.40" y1="81.20" x2="270.00" y2="103.80" stroke="#0a0a0a" stroke-width="0.9" />
<polygon points="251.70,79.50 265.20,86.70 265.20,100.90 251.70,92.20" fill="#efefef" stroke="#0a0a0a" stroke-width="1.0" stroke-linejoin="round" stroke-linecap="round" />
<polygon points="256.30,85.00 265.20,86.70 265.20,100.90 260.30,95.50" fill="#bdbdbd" stroke="#0a0a0a" stroke-width="0.8" stroke-linejoin="round" stroke-linecap="round" />
<polygon points="259.30,88.50 263.60,89.80 263.60,96.50 259.30,93.20" fill="#555" stroke="#0a0a0a" stroke-width="0.8" stroke-linejoin="round" stroke-linecap="round" />
<polygon points="197.00,71.50 202.80,73.70 202.80,79.50 197.00,77.20" fill="#2a2a2a" stroke="#0a0a0a" stroke-width="0.8" stroke-linejoin="round" stroke-linecap="round" />
<polygon points="197.00,103.50 202.80,105.80 202.80,112.20 197.00,109.80" fill="#2a2a2a" stroke="#0a0a0a" stroke-width="0.8" stroke-linejoin="round" stroke-linecap="round" />
<polyline points="195.80,38.00 193.10,66.10 193.10,98.50 194.70,111.20 224.00,129.40 229.60,127.10 229.60,104.90 252.50,95.40" fill="none" stroke="#0a0a0a" stroke-width="1.1" stroke-linejoin="round" stroke-linecap="round" />
<polygon points="64.80,479.20 146.60,523.90 148.00,526.70 145.10,548.00 142.90,547.70 121.50,536.60 98.60,546.10 98.60,568.30 93.00,570.60 63.70,552.40 62.10,539.70 62.10,507.30" fill="#fff" stroke="#0a0a0a" stroke-width="0.8" stroke-linejoin="round" stroke-linecap="round" />
<polygon points="92.20,548.50 98.60,546.10 98.60,568.30 93.00,570.60" fill="#dcdcdc" stroke="#0a0a0a" stroke-width="0.8" stroke-linejoin="round" stroke-linecap="round" />
<polygon points="62.10,535.00 92.20,548.50 93.00,570.60 63.70,552.40" fill="#efefef" stroke="#0a0a0a" stroke-width="0.8" stroke-linejoin="round" stroke-linecap="round" />
<polygon points="62.10,507.30 72.40,510.90 73.20,528.60 85.10,541.30 92.20,548.50 62.10,535.00" fill="#f3f3f3" stroke="#0a0a0a" stroke-width="0.8" stroke-linejoin="round" stroke-linecap="round" />
<polygon points="73.20,511.20 73.20,528.60 85.10,541.30 98.60,546.10 121.50,536.60 94.80,523.20" fill="#efefef" stroke="#0a0a0a" stroke-width="0.7" stroke-linejoin="round" stroke-linecap="round" />
<polyline points="73.20,528.60 84.30,527.80 87.50,533.40 81.90,540.50" fill="none" stroke="#0a0a0a" stroke-width="0.8" stroke-linejoin="round" stroke-linecap="round" />
<line x1="84.30" y1="527.80" x2="90.80" y2="522.20" stroke="#0a0a0a" stroke-width="0.7" />
<line x1="87.50" y1="533.40" x2="104.80" y2="529.20" stroke="#0a0a0a" stroke-width="0.7" />
<polygon points="64.80,479.20 146.60,523.90 142.90,547.70 62.10,507.30" fill="#fafafa" stroke="#0a0a0a" stroke-width="0.9" stroke-linejoin="round" stroke-linecap="round" />
<polyline points="64.80,483.50 145.70,528.10" fill="none" stroke="#0a0a0a" stroke-width="0.8" stroke-linejoin="round" stroke-linecap="round" />
<line x1="64.80" y1="479.60" x2="146.60" y2="524.30" stroke="#0a0a0a" stroke-width="2.4" />
<polyline points="62.10,507.30 72.40,510.90 121.50,536.60 142.90,547.70" fill="none" stroke="#0a0a0a" stroke-width="1.7" stroke-linejoin="round" stroke-linecap="round" />
<path d="M146.6,523.9 q2.4,1.4 1.6,6 l-2.2,15 q-0.6,3 -3.1,2.8" fill="none" stroke="#0a0a0a" stroke-width="1.1" stroke-linejoin="round" stroke-linecap="round" />
<line x1="142.40" y1="522.40" x2="139.00" y2="545.00" stroke="#0a0a0a" stroke-width="0.9" />
<polygon points="120.70,520.70 134.20,527.90 134.20,542.10 120.70,533.40" fill="#efefef" stroke="#0a0a0a" stroke-width="1.0" stroke-linejoin="round" stroke-linecap="round" />
<polygon points="125.30,526.20 134.20,527.90 134.20,542.10 129.30,536.70" fill="#bdbdbd" stroke="#0a0a0a" stroke-width="0.8" stroke-linejoin="round" stroke-linecap="round" />
<polygon points="128.30,529.70 132.60,531.00 132.60,537.70 128.30,534.40" fill="#555" stroke="#0a0a0a" stroke-width="0.8" stroke-linejoin="round" stroke-linecap="round" />
<polygon points="66.00,512.70 71.80,514.90 71.80,520.70 66.00,518.40" fill="#2a2a2a" stroke="#0a0a0a" stroke-width="0.8" stroke-linejoin="round" stroke-linecap="round" />
<polygon points="66.00,544.70 71.80,547.00 71.80,553.40 66.00,551.00" fill="#2a2a2a" stroke="#0a0a0a" stroke-width="0.8" stroke-linejoin="round" stroke-linecap="round" />
<polyline points="64.80,479.20 62.10,507.30 62.10,539.70 63.70,552.40 93.00,570.60 98.60,568.30 98.60,546.10 121.50,536.60" fill="none" stroke="#0a0a0a" stroke-width="1.1" stroke-linejoin="round" stroke-linecap="round" />
<polygon points="510.20,38.10 542.50,59.60 552.90,53.80 584.30,70.70 586.40,75.10 585.20,89.50 581.20,95.30 565.10,95.60 559.90,86.00 538.10,98.20 538.10,122.70 532.00,126.10 498.00,101.70 497.10,93.00 498.00,75.60 502.40,72.10 502.40,60.80 506.70,59.90" fill="#fff" stroke="#0a0a0a" stroke-width="0.8" stroke-linejoin="round" stroke-linecap="round" />
<polygon points="532.00,104.60 538.10,98.20 538.10,122.70 532.00,126.10" fill="#dcdcdc" stroke="#0a0a0a" stroke-width="0.8" stroke-linejoin="round" stroke-linecap="round" />
<polygon points="497.10,93.00 532.00,104.60 532.00,126.10 498.00,101.70" fill="#efefef" stroke="#0a0a0a" stroke-width="0.8" stroke-linejoin="round" stroke-linecap="round" />
<polygon points="498.00,75.60 507.60,75.60 514.60,80.80 525.00,74.70 559.90,86.00 538.10,98.20 532.00,104.60 497.10,93.00" fill="#f1f1f1" stroke="#0a0a0a" stroke-width="0.8" stroke-linejoin="round" stroke-linecap="round" />
<polyline points="516.30,91.30 547.70,77.30" fill="none" stroke="#0a0a0a" stroke-width="0.7" stroke-linejoin="round" stroke-linecap="round" />
<polyline points="507.60,75.60 514.60,80.80 525.00,74.70" fill="none" stroke="#0a0a0a" stroke-width="0.9" stroke-linejoin="round" stroke-linecap="round" />
<polyline points="514.60,80.80 516.30,91.30 506.20,88.10" fill="none" stroke="#0a0a0a" stroke-width="0.7" stroke-linejoin="round" stroke-linecap="round" />
<polygon points="510.20,38.10 542.50,59.60 552.90,53.80 584.30,70.70 581.20,95.30 565.10,95.60 503.20,62.50 506.70,59.90" fill="#fafafa" stroke="#0a0a0a" stroke-width="0.9" stroke-linejoin="round" stroke-linecap="round" />
<polyline points="510.60,42.50 539.00,61.00" fill="none" stroke="#0a0a0a" stroke-width="0.8" stroke-linejoin="round" stroke-linecap="round" />
<polyline points="553.80,57.50 583.40,74.00" fill="none" stroke="#0a0a0a" stroke-width="0.8" stroke-linejoin="round" stroke-linecap="round" />
<polyline points="510.20,38.40 542.50,59.70" fill="none" stroke="#0a0a0a" stroke-width="2.3" stroke-linejoin="round" stroke-linecap="round" />
<polyline points="539.80,62.50 552.90,54.00 584.30,70.90" fill="none" stroke="#0a0a0a" stroke-width="2.3" stroke-linejoin="round" stroke-linecap="round" />
<polyline points="503.20,62.50 565.10,95.60 579.10,96.50" fill="none" stroke="#0a0a0a" stroke-width="1.6" stroke-linejoin="round" stroke-linecap="round" />
<path d="M584.3,70.7 q2.6,1.6 2.2,5.4 l-1.2,13.4 q-0.5,4.8 -6.2,7" fill="none" stroke="#0a0a0a" stroke-width="1.2" stroke-linejoin="round" stroke-linecap="round" />
<line x1="580.80" y1="71.90" x2="579.80" y2="93.70" stroke="#0a0a0a" stroke-width="0.9" />
<polygon points="560.80,69.50 575.60,77.30 575.60,92.10 561.60,84.30" fill="#efefef" stroke="#0a0a0a" stroke-width="1.0" stroke-linejoin="round" stroke-linecap="round" />
<polygon points="565.70,75.10 575.60,77.30 575.60,92.10 570.70,87.10" fill="#bdbdbd" stroke="#0a0a0a" stroke-width="0.8" stroke-linejoin="round" stroke-linecap="round" />
<polygon points="569.50,79.10 574.00,80.40 574.00,87.40 569.50,84.30" fill="#555" stroke="#0a0a0a" stroke-width="0.8" stroke-linejoin="round" stroke-linecap="round" />
<polygon points="502.40,60.80 506.70,59.90 506.70,73.10 502.40,72.10" fill="#fff" stroke="#0a0a0a" stroke-width="0.9" stroke-linejoin="round" stroke-linecap="round" />
<polygon points="502.60,68.10 509.00,70.30 509.00,76.10 502.60,73.90" fill="#262626" stroke="#0a0a0a" stroke-width="0.8" stroke-linejoin="round" stroke-linecap="round" />
<polygon points="501.60,96.90 507.40,99.10 507.40,104.70 501.60,102.50" fill="#262626" stroke="#0a0a0a" stroke-width="0.8" stroke-linejoin="round" stroke-linecap="round" />
<polyline points="510.20,38.10 506.70,59.90" fill="none" stroke="#0a0a0a" stroke-width="1.1" stroke-linejoin="round" stroke-linecap="round" />
<polyline points="502.40,72.10 498.00,75.60 497.10,93.00 498.00,101.70 532.00,126.10 538.10,122.70 538.10,98.20 559.90,86.00" fill="none" stroke="#0a0a0a" stroke-width="1.1" stroke-linejoin="round" stroke-linecap="round" />
<polygon points="267.50,641.30 299.80,662.80 310.20,657.00 341.60,673.90 343.70,678.30 342.50,692.70 338.50,698.50 322.40,698.80 317.20,689.20 295.40,701.40 295.40,725.90 289.30,729.30 255.30,704.90 254.40,696.20 255.30,678.80 259.70,675.30 259.70,664.00 264.00,663.10" fill="#fff" stroke="#0a0a0a" stroke-width="0.8" stroke-linejoin="round" stroke-linecap="round" />
<polygon points="289.30,707.80 295.40,701.40 295.40,725.90 289.30,729.30" fill="#dcdcdc" stroke="#0a0a0a" stroke-width="0.8" stroke-linejoin="round" stroke-linecap="round" />
<polygon points="254.40,696.20 289.30,707.80 289.30,729.30 255.30,704.90" fill="#efefef" stroke="#0a0a0a" stroke-width="0.8" stroke-linejoin="round" stroke-linecap="round" />
<polygon points="255.30,678.80 264.90,678.80 271.90,684.00 282.30,677.90 317.20,689.20 295.40,701.40 289.30,707.80 254.40,696.20" fill="#f1f1f1" stroke="#0a0a0a" stroke-width="0.8" stroke-linejoin="round" stroke-linecap="round" />
<polyline points="273.60,694.50 305.00,680.50" fill="none" stroke="#0a0a0a" stroke-width="0.7" stroke-linejoin="round" stroke-linecap="round" />
<polyline points="264.90,678.80 271.90,684.00 282.30,677.90" fill="none" stroke="#0a0a0a" stroke-width="0.9" stroke-linejoin="round" stroke-linecap="round" />
<polyline points="271.90,684.00 273.60,694.50 263.50,691.30" fill="none" stroke="#0a0a0a" stroke-width="0.7" stroke-linejoin="round" stroke-linecap="round" />
<polygon points="267.50,641.30 299.80,662.80 310.20,657.00 341.60,673.90 338.50,698.50 322.40,698.80 260.50,665.70 264.00,663.10" fill="#fafafa" stroke="#0a0a0a" stroke-width="0.9" stroke-linejoin="round" stroke-linecap="round" />
<polyline points="267.90,645.70 296.30,664.20" fill="none" stroke="#0a0a0a" stroke-width="0.8" stroke-linejoin="round" stroke-linecap="round" />
<polyline points="311.10,660.70 340.70,677.20" fill="none" stroke="#0a0a0a" stroke-width="0.8" stroke-linejoin="round" stroke-linecap="round" />
<polyline points="267.50,641.60 299.80,662.90" fill="none" stroke="#0a0a0a" stroke-width="2.3" stroke-linejoin="round" stroke-linecap="round" />
<polyline points="297.10,665.70 310.20,657.20 341.60,674.10" fill="none" stroke="#0a0a0a" stroke-width="2.3" stroke-linejoin="round" stroke-linecap="round" />
<polyline points="260.50,665.70 322.40,698.80 336.40,699.70" fill="none" stroke="#0a0a0a" stroke-width="1.6" stroke-linejoin="round" stroke-linecap="round" />
<path d="M341.6,673.9 q2.6,1.6 2.2,5.4 l-1.2,13.4 q-0.5,4.8 -6.2,7" fill="none" stroke="#0a0a0a" stroke-width="1.2" stroke-linejoin="round" stroke-linecap="round" />
<line x1="338.10" y1="675.10" x2="337.10" y2="696.90" stroke="#0a0a0a" stroke-width="0.9" />
<polygon points="318.10,672.70 332.90,680.50 332.90,695.30 318.90,687.50" fill="#efefef" stroke="#0a0a0a" stroke-width="1.0" stroke-linejoin="round" stroke-linecap="round" />
<polygon points="323.00,678.30 332.90,680.50 332.90,695.30 328.00,690.30" fill="#bdbdbd" stroke="#0a0a0a" stroke-width="0.8" stroke-linejoin="round" stroke-linecap="round" />
<polygon points="326.80,682.30 331.30,683.60 331.30,690.60 326.80,687.50" fill="#555" stroke="#0a0a0a" stroke-width="0.8" stroke-linejoin="round" stroke-linecap="round" />
<polygon points="259.70,664.00 264.00,663.10 264.00,676.30 259.70,675.30" fill="#fff" stroke="#0a0a0a" stroke-width="0.9" stroke-linejoin="round" stroke-linecap="round" />
<polygon points="259.90,671.30 266.30,673.50 266.30,679.30 259.90,677.10" fill="#262626" stroke="#0a0a0a" stroke-width="0.8" stroke-linejoin="round" stroke-linecap="round" />
<polygon points="258.90,700.10 264.70,702.30 264.70,707.90 258.90,705.70" fill="#262626" stroke="#0a0a0a" stroke-width="0.8" stroke-linejoin="round" stroke-linecap="round" />
<polyline points="267.50,641.30 264.00,663.10" fill="none" stroke="#0a0a0a" stroke-width="1.1" stroke-linejoin="round" stroke-linecap="round" />
<polyline points="259.70,675.30 255.30,678.80 254.40,696.20 255.30,704.90 289.30,729.30 295.40,725.90 295.40,701.40 317.20,689.20" fill="none" stroke="#0a0a0a" stroke-width="1.1" stroke-linejoin="round" stroke-linecap="round" />
<polygon points="301.20,146.40 304.80,142.80 315.50,148.60 315.50,161.40 311.90,162.60 302.00,157.40" fill="#fff" stroke="#0a0a0a" stroke-width="1.1" stroke-linejoin="round" stroke-linecap="round" />
<polyline points="301.20,146.40 311.90,151.80 315.50,148.60" fill="none" stroke="#0a0a0a" stroke-width="0.9" stroke-linejoin="round" stroke-linecap="round" />
<line x1="311.90" y1="151.80" x2="311.90" y2="162.60" stroke="#0a0a0a" stroke-width="0.9" />
<polygon points="312.60,152.40 314.80,150.60 314.80,160.80 312.60,161.60" fill="#cfcfcf" stroke="#999" stroke-width="0.5" stroke-linejoin="round" stroke-linecap="round" />
<polygon points="302.60,148.20 305.40,145.20 313.60,149.40 311.60,151.00" fill="#d9d9d9" stroke="#888" stroke-width="0.5" stroke-linejoin="round" stroke-linecap="round" />
<ellipse cx="307.20" cy="154.30" rx="3.9" ry="4.5" transform="rotate(-15 307.20 154.30)" fill="#161616" stroke="#0a0a0a" stroke-width="0.8"/>
<ellipse cx="303.70" cy="156.90" rx="1.3" ry="1.5" transform="rotate(0 303.70 156.90)" fill="#fff" stroke="#0a0a0a" stroke-width="0.7"/>
<polygon points="611.80,137.80 615.40,134.20 626.10,140.00 626.10,152.80 622.50,154.00 612.60,148.80" fill="#fff" stroke="#0a0a0a" stroke-width="1.1" stroke-linejoin="round" stroke-linecap="round" />
<polyline points="611.80,137.80 622.50,143.20 626.10,140.00" fill="none" stroke="#0a0a0a" stroke-width="0.9" stroke-linejoin="round" stroke-linecap="round" />
<line x1="622.50" y1="143.20" x2="622.50" y2="154.00" stroke="#0a0a0a" stroke-width="0.9" />
<polygon points="623.20,143.80 625.40,142.00 625.40,152.20 623.20,153.00" fill="#cfcfcf" stroke="#999" stroke-width="0.5" stroke-linejoin="round" stroke-linecap="round" />
<polygon points="613.20,139.60 616.00,136.60 624.20,140.80 622.20,142.40" fill="#d9d9d9" stroke="#888" stroke-width="0.5" stroke-linejoin="round" stroke-linecap="round" />
<ellipse cx="617.80" cy="145.70" rx="3.9" ry="4.5" transform="rotate(-15 617.80 145.70)" fill="#161616" stroke="#0a0a0a" stroke-width="0.8"/>
<ellipse cx="614.30" cy="148.30" rx="1.3" ry="1.5" transform="rotate(0 614.30 148.30)" fill="#fff" stroke="#0a0a0a" stroke-width="0.7"/>
<polygon points="108.50,553.90 111.20,551.50 122.30,557.00 122.30,566.10 118.00,572.50 113.60,570.50 108.50,565.40" fill="#fff" stroke="#0a0a0a" stroke-width="1.1" stroke-linejoin="round" stroke-linecap="round" />
<polygon points="118.80,559.00 122.30,557.00 122.30,566.10 118.80,571.70" fill="#d4d4d4" stroke="#0a0a0a" stroke-width="0.8" stroke-linejoin="round" stroke-linecap="round" />
<polyline points="108.50,553.90 118.80,559.00 118.80,571.70" fill="none" stroke="#0a0a0a" stroke-width="0.9" stroke-linejoin="round" stroke-linecap="round" />
<line x1="109.70" y1="556.20" x2="117.80" y2="560.30" stroke="#2a2a2a" stroke-width="1.4" />
<line x1="109.70" y1="558.50" x2="117.80" y2="562.60" stroke="#444" stroke-width="1.2" />
<ellipse cx="113.70" cy="565.50" rx="3.0" ry="2.0" transform="rotate(35 113.70 565.50)" fill="#fff" stroke="#0a0a0a" stroke-width="1.1"/>
<polygon points="307.60,708.40 310.30,706.00 321.40,711.50 321.40,720.60 317.10,727.00 312.70,725.00 307.60,719.90" fill="#fff" stroke="#0a0a0a" stroke-width="1.1" stroke-linejoin="round" stroke-linecap="round" />
<polygon points="317.90,713.50 321.40,711.50 321.40,720.60 317.90,726.20" fill="#d4d4d4" stroke="#0a0a0a" stroke-width="0.8" stroke-linejoin="round" stroke-linecap="round" />
<polyline points="307.60,708.40 317.90,713.50 317.90,726.20" fill="none" stroke="#0a0a0a" stroke-width="0.9" stroke-linejoin="round" stroke-linecap="round" />
<line x1="308.80" y1="710.70" x2="316.90" y2="714.80" stroke="#2a2a2a" stroke-width="1.4" />
<line x1="308.80" y1="713.00" x2="316.90" y2="717.10" stroke="#444" stroke-width="1.2" />
<ellipse cx="312.80" cy="720.00" rx="3.0" ry="2.0" transform="rotate(35 312.80 720.00)" fill="#fff" stroke="#0a0a0a" stroke-width="1.1"/>
<path d="M133.3,251.2 q0.2,-3.4 3.2,-4.2 l19.6,3.6 q1,0.3 1.1,1.4 l0.8,18.6 l-2.8,-0.6 l-19.8,-12.8 q-2.4,-2 -2.1,-6 z" fill="#fff" stroke="#0a0a0a" stroke-width="1.2" stroke-linejoin="round" stroke-linecap="round" />
<polygon points="142.30,250.40 155.30,253.20 155.90,267.70 148.80,264.60 142.80,258.20" fill="#3c3c3c" stroke="#0a0a0a" stroke-width="0.9" stroke-linejoin="round" stroke-linecap="round" />
<ellipse cx="147.30" cy="255.40" rx="2.0" ry="2.6" transform="rotate(-20 147.30 255.40)" fill="#e6e6e6" stroke="#0a0a0a" stroke-width="0.7"/>
<ellipse cx="151.90" cy="261.60" rx="1.9" ry="2.4" transform="rotate(-20 151.90 261.60)" fill="#e6e6e6" stroke="#0a0a0a" stroke-width="0.7"/>
<ellipse cx="137.40" cy="251.80" rx="2.0" ry="2.6" transform="rotate(-20 137.40 251.80)" fill="#fff" stroke="#0a0a0a" stroke-width="0.9"/>
<path d="M442,244.2 q0.2,-3.4 3.2,-4.2 l19.6,3.6 q1,0.3 1.1,1.4 l0.8,18.6 l-2.8,-0.6 l-19.8,-12.8 q-2.4,-2 -2.1,-6 z" fill="#fff" stroke="#0a0a0a" stroke-width="1.2" stroke-linejoin="round" stroke-linecap="round" />
<polygon points="451.00,243.40 464.00,246.20 464.60,260.70 457.50,257.60 451.50,251.20" fill="#3c3c3c" stroke="#0a0a0a" stroke-width="0.9" stroke-linejoin="round" stroke-linecap="round" />
<ellipse cx="456.00" cy="248.40" rx="2.0" ry="2.6" transform="rotate(-20 456.00 248.40)" fill="#e6e6e6" stroke="#0a0a0a" stroke-width="0.7"/>
<ellipse cx="460.60" cy="254.60" rx="1.9" ry="2.4" transform="rotate(-20 460.60 254.60)" fill="#e6e6e6" stroke="#0a0a0a" stroke-width="0.7"/>
<ellipse cx="446.10" cy="244.80" rx="2.0" ry="2.6" transform="rotate(-20 446.10 244.80)" fill="#fff" stroke="#0a0a0a" stroke-width="0.9"/>
<path d="M284.3,517.5 q0.2,-3.4 3.2,-4.2 l19.6,3.6 q1,0.3 1.1,1.4 l0.8,18.6 l-2.8,-0.6 l-19.8,-12.8 q-2.4,-2 -2.1,-6 z" fill="#fff" stroke="#0a0a0a" stroke-width="1.2" stroke-linejoin="round" stroke-linecap="round" />
<polygon points="293.30,516.70 306.30,519.50 306.90,534.00 299.80,530.90 293.80,524.50" fill="#3c3c3c" stroke="#0a0a0a" stroke-width="0.9" stroke-linejoin="round" stroke-linecap="round" />
<ellipse cx="298.30" cy="521.70" rx="2.0" ry="2.6" transform="rotate(-20 298.30 521.70)" fill="#e6e6e6" stroke="#0a0a0a" stroke-width="0.7"/>
<ellipse cx="302.90" cy="527.90" rx="1.9" ry="2.4" transform="rotate(-20 302.90 527.90)" fill="#e6e6e6" stroke="#0a0a0a" stroke-width="0.7"/>
<ellipse cx="288.40" cy="518.10" rx="2.0" ry="2.6" transform="rotate(-20 288.40 518.10)" fill="#fff" stroke="#0a0a0a" stroke-width="0.9"/>
<path d="M473.2,676 q0.2,-3.4 3.2,-4.2 l19.6,3.6 q1,0.3 1.1,1.4 l0.8,18.6 l-2.8,-0.6 l-19.8,-12.8 q-2.4,-2 -2.1,-6 z" fill="#fff" stroke="#0a0a0a" stroke-width="1.2" stroke-linejoin="round" stroke-linecap="round" />
<polygon points="482.20,675.20 495.20,678.00 495.80,692.50 488.70,689.40 482.70,683.00" fill="#3c3c3c" stroke="#0a0a0a" stroke-width="0.9" stroke-linejoin="round" stroke-linecap="round" />
<ellipse cx="487.20" cy="680.20" rx="2.0" ry="2.6" transform="rotate(-20 487.20 680.20)" fill="#e6e6e6" stroke="#0a0a0a" stroke-width="0.7"/>
<ellipse cx="491.80" cy="686.40" rx="1.9" ry="2.4" transform="rotate(-20 491.80 686.40)" fill="#e6e6e6" stroke="#0a0a0a" stroke-width="0.7"/>
<ellipse cx="477.30" cy="676.60" rx="2.0" ry="2.6" transform="rotate(-20 477.30 676.60)" fill="#fff" stroke="#0a0a0a" stroke-width="0.9"/>
<polygon points="126.30,383.50 143.80,374.80 144.60,377.60 127.20,386.50" fill="#fff" stroke="#0a0a0a" stroke-width="0.9" stroke-linejoin="round" stroke-linecap="round" />
<path d="M156.6,326.2 L138.6,319.6 Q132.2,318.6 133.2,325 Q135.5,334 149.8,353.5" fill="none" stroke="#0a0a0a" stroke-width="3.9" stroke-linejoin="round" stroke-linecap="butt"/>
<path d="M156.6,326.2 L138.6,319.6 Q132.2,318.6 133.2,325 Q135.5,334 149.8,353.5" fill="none" stroke="#fff" stroke-width="1.9" stroke-linejoin="round" stroke-linecap="butt"/>
<path d="M161.8,306.2 L149.2,391.2" fill="none" stroke="#0a0a0a" stroke-width="7.2" stroke-linejoin="round" stroke-linecap="butt"/>
<path d="M161.8,306.2 L149.2,391.2" fill="none" stroke="#fff" stroke-width="5.2" stroke-linejoin="round" stroke-linecap="butt"/>
<line x1="158.20" y1="304.60" x2="166.20" y2="308.00" stroke="#0a0a0a" stroke-width="1.0" />
<ellipse cx="148.80" cy="386.70" rx="0.9" ry="1.6" transform="rotate(0 148.80 386.70)" fill="#fff" stroke="#0a0a0a" stroke-width="0.7"/>
<polygon points="148.40,352.00 155.40,353.80 155.00,363.40 148.00,361.60" fill="#fff" stroke="#0a0a0a" stroke-width="0.9" stroke-linejoin="round" stroke-linecap="round" />
<polygon points="157.40,323.50 161.40,324.40 159.60,337.80 155.80,337.00" fill="#fff" stroke="#0a0a0a" stroke-width="0.8" stroke-linejoin="round" stroke-linecap="round" />
<polygon points="421.80,360.00 433.20,353.60 434.40,356.00 423.00,362.60" fill="#fff" stroke="#0a0a0a" stroke-width="0.9" stroke-linejoin="round" stroke-linecap="round" />
<path d="M447.4,295.4 L427.6,285 Q421.4,283.4 421.8,289.4 Q423.2,298.5 442.6,319.5" fill="none" stroke="#0a0a0a" stroke-width="3.9" stroke-linejoin="round" stroke-linecap="butt"/>
<path d="M447.4,295.4 L427.6,285 Q421.4,283.4 421.8,289.4 Q423.2,298.5 442.6,319.5" fill="none" stroke="#fff" stroke-width="1.9" stroke-linejoin="round" stroke-linecap="butt"/>
<path d="M452.2,281.6 L444.2,345 L443.4,368.6" fill="none" stroke="#0a0a0a" stroke-width="7.2" stroke-linejoin="round" stroke-linecap="butt"/>
<path d="M452.2,281.6 L444.2,345 L443.4,368.6" fill="none" stroke="#fff" stroke-width="5.2" stroke-linejoin="round" stroke-linecap="butt"/>
<line x1="448.60" y1="280.00" x2="456.60" y2="283.40" stroke="#0a0a0a" stroke-width="1.0" />
<ellipse cx="443.00" cy="364.10" rx="0.9" ry="1.6" transform="rotate(0 443.00 364.10)" fill="#fff" stroke="#0a0a0a" stroke-width="0.7"/>
<polygon points="433.40,346.60 439.80,347.80 439.40,356.00 433.20,354.80" fill="#ddd" stroke="#0a0a0a" stroke-width="0.9" stroke-linejoin="round" stroke-linecap="round" />
<polygon points="467.20,429.90 482.40,422.40 483.40,425.20 468.40,432.80" fill="#fff" stroke="#0a0a0a" stroke-width="0.9" stroke-linejoin="round" stroke-linecap="round" />
<path d="M468.2,392.6 L450.2,382.6 Q443.2,380.8 443.4,387 Q444.8,396 463.4,415.6" fill="none" stroke="#0a0a0a" stroke-width="3.9" stroke-linejoin="round" stroke-linecap="butt"/>
<path d="M468.2,392.6 L450.2,382.6 Q443.2,380.8 443.4,387 Q444.8,396 463.4,415.6" fill="none" stroke="#fff" stroke-width="1.9" stroke-linejoin="round" stroke-linecap="butt"/>
<path d="M473.4,371.4 L461.6,453.6" fill="none" stroke="#0a0a0a" stroke-width="7.2" stroke-linejoin="round" stroke-linecap="butt"/>
<path d="M473.4,371.4 L461.6,453.6" fill="none" stroke="#fff" stroke-width="5.2" stroke-linejoin="round" stroke-linecap="butt"/>
<line x1="469.80" y1="369.80" x2="477.80" y2="373.20" stroke="#0a0a0a" stroke-width="1.0" />
<ellipse cx="461.20" cy="449.10" rx="0.9" ry="1.6" transform="rotate(0 461.20 449.10)" fill="#fff" stroke="#0a0a0a" stroke-width="0.7"/>
<polygon points="474.60,382.80 478.00,383.60 477.20,396.00 474.00,395.20" fill="#fff" stroke="#0a0a0a" stroke-width="0.9" stroke-linejoin="round" stroke-linecap="round" />
<polygon points="471.40,410.40 474.20,411.00 473.40,420.40 470.80,419.80" fill="#fff" stroke="#0a0a0a" stroke-width="0.9" stroke-linejoin="round" stroke-linecap="round" />
<polygon points="562.00,715.60 570.60,711.00 571.60,713.80 563.20,718.60" fill="#fff" stroke="#0a0a0a" stroke-width="0.9" stroke-linejoin="round" stroke-linecap="round" />
<path d="M559.4,672.2 L539.4,661.8 Q532.4,660 532.4,666.4 Q533.4,675 554.8,697.6" fill="none" stroke="#0a0a0a" stroke-width="3.9" stroke-linejoin="round" stroke-linecap="butt"/>
<path d="M559.4,672.2 L539.4,661.8 Q532.4,660 532.4,666.4 Q533.4,675 554.8,697.6" fill="none" stroke="#fff" stroke-width="1.9" stroke-linejoin="round" stroke-linecap="butt"/>
<path d="M565,662.6 L556,720 L556.2,745.4" fill="none" stroke="#0a0a0a" stroke-width="7.2" stroke-linejoin="round" stroke-linecap="butt"/>
<path d="M565,662.6 L556,720 L556.2,745.4" fill="none" stroke="#fff" stroke-width="5.2" stroke-linejoin="round" stroke-linecap="butt"/>
<line x1="561.40" y1="661.00" x2="569.40" y2="664.40" stroke="#0a0a0a" stroke-width="1.0" />
<ellipse cx="555.80" cy="740.90" rx="0.9" ry="1.6" transform="rotate(0 555.80 740.90)" fill="#fff" stroke="#0a0a0a" stroke-width="0.7"/>
<polygon points="553.00,733.50 559.40,734.80 559.20,745.60 553.00,744.40" fill="#333" stroke="#0a0a0a" stroke-width="0.9" stroke-linejoin="round" stroke-linecap="round" />
<polygon points="39.50,20.50 39.50,27.50 74.50,47.50 71.50,70.00 69.00,68.40 71.30,49.60 37.30,30.20 37.30,23.00" fill="#111" stroke="#0a0a0a" stroke-width="0.8" stroke-linejoin="round" stroke-linecap="round" />
<polygon points="25.00,34.00 37.30,23.00 37.30,30.20 71.30,49.60 69.00,68.40 37.50,50.00 37.50,57.50" fill="#fff" stroke="#0a0a0a" stroke-width="1.1" stroke-linejoin="round" stroke-linecap="round" />
<polygon points="37.50,50.00 37.50,57.50 35.40,54.50 35.40,49.00" fill="#111" stroke="#0a0a0a" stroke-width="0.6" stroke-linejoin="round" stroke-linecap="round" />
<g transform="matrix(1,0.5,0,1,0,0)"><text class="s" x="31.5" y="29.3" font-size="13.5" font-weight="bold" textLength="38" lengthAdjust="spacingAndGlyphs">FRONT</text></g>
<polygon points="260.50,406.50 294.90,387.60 331.50,407.60 298.20,427.60" fill="#fff" stroke="#0a0a0a" stroke-width="0.9" stroke-linejoin="round" stroke-linecap="round" />
<polygon points="253.80,387.60 277.10,375.40 296.00,385.40 272.70,398.70" fill="#fff" stroke="#0a0a0a" stroke-width="0.9" stroke-linejoin="round" stroke-linecap="round" />
<path d="M234.4,300.8 L240.5,296.2 L247,295.6 Q259.6,297 259.6,312 L259.6,366.5" fill="none" stroke="#0a0a0a" stroke-width="4.8" stroke-linejoin="round" stroke-linecap="butt"/>
<path d="M234.4,300.8 L240.5,296.2 L247,295.6 Q259.6,297 259.6,312 L259.6,366.5" fill="none" stroke="#fff" stroke-width="2.8" stroke-linejoin="round" stroke-linecap="butt"/>
<line x1="232.60" y1="299.40" x2="235.60" y2="304.20" stroke="#0a0a0a" stroke-width="1.0" />
<polygon points="262.40,315.00 268.80,316.40 269.00,322.00 265.60,323.40 262.40,322.40" fill="#fff" stroke="#0a0a0a" stroke-width="0.9" stroke-linejoin="round" stroke-linecap="round" />
<polygon points="262.40,347.20 268.80,348.60 269.00,354.20 265.60,355.60 262.40,354.60" fill="#fff" stroke="#0a0a0a" stroke-width="0.9" stroke-linejoin="round" stroke-linecap="round" />
<path d="M259.6,366.5 L339,407.6" fill="none" stroke="#0a0a0a" stroke-width="4.6" stroke-linejoin="round" stroke-linecap="butt"/>
<path d="M259.6,366.5 L339,407.6" fill="none" stroke="#fff" stroke-width="2.6" stroke-linejoin="round" stroke-linecap="butt"/>
<path d="M237,394.8 L277.1,372.2" fill="none" stroke="#0a0a0a" stroke-width="5.2" stroke-linejoin="round" stroke-linecap="butt"/>
<path d="M237,394.8 L277.1,372.2" fill="none" stroke="#fff" stroke-width="3.2" stroke-linejoin="round" stroke-linecap="butt"/>
<ellipse cx="236.40" cy="395.20" rx="2.8" ry="4.0" transform="rotate(-25 236.40 395.20)" fill="#fff" stroke="#0a0a0a" stroke-width="1.1"/>
<path d="M252.7,389.8 L272.7,401" fill="none" stroke="#0a0a0a" stroke-width="3.6" stroke-linejoin="round" stroke-linecap="butt"/>
<path d="M252.7,389.8 L272.7,401" fill="none" stroke="#fff" stroke-width="1.6" stroke-linejoin="round" stroke-linecap="butt"/>
<path d="M260.5,406.5 L294.9,387.6" fill="none" stroke="#0a0a0a" stroke-width="4.0" stroke-linejoin="round" stroke-linecap="butt"/>
<path d="M260.5,406.5 L294.9,387.6" fill="none" stroke="#fff" stroke-width="2.0" stroke-linejoin="round" stroke-linecap="butt"/>
<ellipse cx="260.30" cy="406.70" rx="1.6" ry="2.2" transform="rotate(-25 260.30 406.70)" fill="#555" stroke="#0a0a0a" stroke-width="0.9"/>
<polygon points="268.80,379.60 280.60,385.60 279.40,387.40 267.60,381.40" fill="#333" stroke="#0a0a0a" stroke-width="0.8" stroke-linejoin="round" stroke-linecap="round" />
<path d="M335.4,373.6 L319.6,366.6 Q313.2,365.2 314,370.6 Q315.4,377 335.6,394.4" fill="none" stroke="#0a0a0a" stroke-width="3.7" stroke-linejoin="round" stroke-linecap="butt"/>
<path d="M335.4,373.6 L319.6,366.6 Q313.2,365.2 314,370.6 Q315.4,377 335.6,394.4" fill="none" stroke="#fff" stroke-width="1.7" stroke-linejoin="round" stroke-linecap="butt"/>
<path d="M337,358.8 L338.4,407" fill="none" stroke="#0a0a0a" stroke-width="4.6" stroke-linejoin="round" stroke-linecap="butt"/>
<path d="M337,358.8 L338.4,407" fill="none" stroke="#fff" stroke-width="2.6" stroke-linejoin="round" stroke-linecap="butt"/>
<line x1="334.80" y1="358.20" x2="339.60" y2="359.40" stroke="#0a0a0a" stroke-width="1.0" />
<polygon points="340.60,364.10 347.00,365.30 347.20,370.50 344.00,371.90 340.60,370.90" fill="#fff" stroke="#0a0a0a" stroke-width="0.9" stroke-linejoin="round" stroke-linecap="round" />
<polygon points="340.60,392.90 347.00,394.10 347.20,399.30 344.00,400.70 340.60,399.70" fill="#fff" stroke="#0a0a0a" stroke-width="0.9" stroke-linejoin="round" stroke-linecap="round" />
<polygon points="318.60,424.60 344.00,410.00 356.40,416.40 356.80,421.00 330.80,436.40 318.80,430.20" fill="#fff" stroke="#0a0a0a" stroke-width="1.0" stroke-linejoin="round" stroke-linecap="round" />
<path d="M321,424 L345.2,410.4" fill="none" stroke="#0a0a0a" stroke-width="4.0" stroke-linejoin="round" stroke-linecap="butt"/>
<path d="M321,424 L345.2,410.4" fill="none" stroke="#fff" stroke-width="2.0" stroke-linejoin="round" stroke-linecap="butt"/>
<path d="M330.4,431.4 L355.2,417.6" fill="none" stroke="#0a0a0a" stroke-width="4.0" stroke-linejoin="round" stroke-linecap="butt"/>
<path d="M330.4,431.4 L355.2,417.6" fill="none" stroke="#fff" stroke-width="2.0" stroke-linejoin="round" stroke-linecap="butt"/>
<polygon points="333.00,420.60 340.00,416.80 344.40,419.20 337.40,423.00" fill="#ececec" stroke="#0a0a0a" stroke-width="0.8" stroke-linejoin="round" stroke-linecap="round" />
<polygon points="306.00,421.40 307.60,413.40 311.60,410.60 314.60,412.60 314.20,419.80 310.40,424.40" fill="#fff" stroke="#0a0a0a" stroke-width="1.0" stroke-linejoin="round" stroke-linecap="round" />
<line x1="310.60" y1="416.40" x2="310.40" y2="424.40" stroke="#0a0a0a" stroke-width="0.8" />
<line x1="310.60" y1="416.40" x2="314.60" y2="412.60" stroke="#0a0a0a" stroke-width="0.8" />
<polygon points="298.60,427.40 310.40,421.60 319.40,426.00 319.40,430.40 331.00,436.60 322.00,441.60" fill="#f4f4f4" stroke="#0a0a0a" stroke-width="0.9" stroke-linejoin="round" stroke-linecap="round" />
<ellipse cx="298.60" cy="428.20" rx="1.6" ry="2.2" transform="rotate(-25 298.60 428.20)" fill="#555" stroke="#0a0a0a" stroke-width="0.9"/>
<ellipse cx="355.60" cy="419.80" rx="1.9" ry="2.7" transform="rotate(-25 355.60 419.80)" fill="#fff" stroke="#0a0a0a" stroke-width="1.0"/>
<path d="M26.2,712.6 L174.6,796" fill="none" stroke="#0a0a0a" stroke-width="5.0" stroke-linejoin="round" stroke-linecap="butt"/>
<path d="M26.2,712.6 L174.6,796" fill="none" stroke="#fff" stroke-width="3.0" stroke-linejoin="round" stroke-linecap="butt"/>
<line x1="173.00" y1="797.60" x2="176.20" y2="794.40" stroke="#0a0a0a" stroke-width="1.0" />
<path d="M8.6,641.8 L14.4,643.4 Q26.6,646.8 26.6,661 L26.6,712.6" fill="none" stroke="#0a0a0a" stroke-width="5.6" stroke-linejoin="round" stroke-linecap="butt"/>
<path d="M8.6,641.8 L14.4,643.4 Q26.6,646.8 26.6,661 L26.6,712.6" fill="none" stroke="#fff" stroke-width="3.6" stroke-linejoin="round" stroke-linecap="butt"/>
<line x1="26.20" y1="668.00" x2="26.20" y2="708.00" stroke="#555" stroke-width="0.6" />
<polyline points="7.40,641.00 7.40,636.80 13.60,639.20" fill="none" stroke="#0a0a0a" stroke-width="0.9" stroke-linejoin="round" stroke-linecap="round" />
<polygon points="24.40,664.70 32.00,666.10 32.60,672.10 28.80,673.70 24.40,672.30" fill="#fff" stroke="#0a0a0a" stroke-width="0.9" stroke-linejoin="round" stroke-linecap="round" />
<polygon points="24.40,694.80 32.00,696.20 32.60,702.20 28.80,703.80 24.40,702.40" fill="#fff" stroke="#0a0a0a" stroke-width="0.9" stroke-linejoin="round" stroke-linecap="round" />
<path d="M40.5,717 L76,697.4" fill="none" stroke="#0a0a0a" stroke-width="4.6" stroke-linejoin="round" stroke-linecap="butt"/>
<path d="M40.5,717 L76,697.4" fill="none" stroke="#fff" stroke-width="2.6" stroke-linejoin="round" stroke-linecap="butt"/>
<path d="M60.4,727.6 L68.4,705.4" fill="none" stroke="#0a0a0a" stroke-width="4.0" stroke-linejoin="round" stroke-linecap="butt"/>
<path d="M60.4,727.6 L68.4,705.4" fill="none" stroke="#fff" stroke-width="2.0" stroke-linejoin="round" stroke-linecap="butt"/>
<polygon points="74.20,694.60 79.80,692.60 84.40,695.20 84.40,701.80 79.20,704.60 74.40,701.80" fill="#fff" stroke="#0a0a0a" stroke-width="0.9" stroke-linejoin="round" stroke-linecap="round" />
<line x1="79.40" y1="697.80" x2="84.40" y2="695.20" stroke="#0a0a0a" stroke-width="0.8" />
<line x1="79.40" y1="697.80" x2="79.20" y2="704.60" stroke="#0a0a0a" stroke-width="0.8" />
<line x1="79.40" y1="697.80" x2="74.20" y2="694.60" stroke="#0a0a0a" stroke-width="0.8" />
<path d="M103,705.4 L103,757" fill="none" stroke="#0a0a0a" stroke-width="4.6" stroke-linejoin="round" stroke-linecap="butt"/>
<path d="M103,705.4 L103,757" fill="none" stroke="#fff" stroke-width="2.6" stroke-linejoin="round" stroke-linecap="butt"/>
<ellipse cx="103.20" cy="704.40" rx="1.5" ry="2.2" transform="rotate(0 103.20 704.40)" fill="#444" stroke="#0a0a0a" stroke-width="1.0"/>
<polygon points="100.60,713.10 108.00,714.50 108.40,719.30 105.00,720.90 100.60,719.70" fill="#fff" stroke="#0a0a0a" stroke-width="0.9" stroke-linejoin="round" stroke-linecap="round" />
<polygon points="100.60,741.60 108.00,743.00 108.40,747.80 105.00,749.40 100.60,748.20" fill="#fff" stroke="#0a0a0a" stroke-width="0.9" stroke-linejoin="round" stroke-linecap="round" />
<polygon points="99.60,755.20 107.40,759.60 107.40,762.00 99.60,757.60" fill="#fff" stroke="#0a0a0a" stroke-width="0.9" stroke-linejoin="round" stroke-linecap="round" />
<polygon points="124.00,748.50 128.60,741.00 132.00,743.00 158.00,729.50 167.60,735.50 167.40,742.00 131.50,762.00 124.50,757.50" fill="#fff" stroke="#0a0a0a" stroke-width="1.0" stroke-linejoin="round" stroke-linecap="round" />
<path d="M131.6,746.6 L160.6,731.2" fill="none" stroke="#0a0a0a" stroke-width="4.2" stroke-linejoin="round" stroke-linecap="butt"/>
<path d="M131.6,746.6 L160.6,731.2" fill="none" stroke="#fff" stroke-width="2.2" stroke-linejoin="round" stroke-linecap="butt"/>
<path d="M134.6,758.6 L166.4,741.2" fill="none" stroke="#0a0a0a" stroke-width="4.2" stroke-linejoin="round" stroke-linecap="butt"/>
<path d="M134.6,758.6 L166.4,741.2" fill="none" stroke="#fff" stroke-width="2.2" stroke-linejoin="round" stroke-linecap="butt"/>
<polygon points="146.00,745.00 153.00,741.20 158.00,744.00 151.00,747.80" fill="#fff" stroke="#0a0a0a" stroke-width="0.8" stroke-linejoin="round" stroke-linecap="round" />
<polygon points="139.00,741.00 141.50,737.00 144.50,738.60 142.50,742.80" fill="#fff" stroke="#0a0a0a" stroke-width="0.8" stroke-linejoin="round" stroke-linecap="round" />
<polygon points="154.50,733.60 157.00,729.80 160.00,731.40 158.00,735.40" fill="#fff" stroke="#0a0a0a" stroke-width="0.8" stroke-linejoin="round" stroke-linecap="round" />
<ellipse cx="128.80" cy="751.60" rx="1.2" ry="1.7" transform="rotate(0 128.80 751.60)" fill="#fff" stroke="#0a0a0a" stroke-width="0.8"/>
<ellipse cx="132.60" cy="754.60" rx="1.2" ry="1.7" transform="rotate(0 132.60 754.60)" fill="#fff" stroke="#0a0a0a" stroke-width="0.8"/>
<ellipse cx="166.40" cy="740.60" rx="1.8" ry="2.6" transform="rotate(-25 166.40 740.60)" fill="#fff" stroke="#0a0a0a" stroke-width="0.9"/>
<polygon points="124.40,763.20 130.40,760.00 133.40,762.40 127.40,765.80" fill="#fff" stroke="#0a0a0a" stroke-width="0.9" stroke-linejoin="round" stroke-linecap="round" />
<line x1="250.00" y1="44.50" x2="205.00" y2="70.60" stroke="#0a0a0a" stroke-width="1.0" stroke-dasharray="8.5 4.2"/>
<line x1="269.00" y1="65.40" x2="206.00" y2="101.80" stroke="#0a0a0a" stroke-width="1.0" stroke-dasharray="8.5 4.2"/>
<line x1="549.30" y1="45.00" x2="505.00" y2="70.20" stroke="#0a0a0a" stroke-width="1.0" stroke-dasharray="8.5 4.2"/>
<line x1="581.00" y1="57.20" x2="504.00" y2="100.20" stroke="#0a0a0a" stroke-width="1.0" stroke-dasharray="8.5 4.2"/>
<line x1="249.30" y1="43.20" x2="244.80" y2="46.20" stroke="#333" stroke-width="2.0" />
<ellipse cx="250.80" cy="42.40" rx="2.3" ry="2.6" transform="rotate(-30 250.80 42.40)" fill="#e4e4e4" stroke="#0a0a0a" stroke-width="1.2"/>
<line x1="275.10" y1="60.40" x2="270.60" y2="63.40" stroke="#333" stroke-width="2.0" />
<ellipse cx="276.60" cy="59.60" rx="2.3" ry="2.6" transform="rotate(-30 276.60 59.60)" fill="#e4e4e4" stroke="#0a0a0a" stroke-width="1.2"/>
<line x1="550.90" y1="42.10" x2="546.40" y2="45.10" stroke="#333" stroke-width="2.0" />
<ellipse cx="552.40" cy="41.30" rx="2.3" ry="2.6" transform="rotate(-30 552.40 41.30)" fill="#e4e4e4" stroke="#0a0a0a" stroke-width="1.2"/>
<line x1="587.10" y1="49.60" x2="582.60" y2="52.60" stroke="#333" stroke-width="2.0" />
<ellipse cx="588.60" cy="48.80" rx="2.3" ry="2.6" transform="rotate(-30 588.60 48.80)" fill="#e4e4e4" stroke="#0a0a0a" stroke-width="1.2"/>
<line x1="50.00" y1="573.80" x2="100.00" y2="547.60" stroke="#0a0a0a" stroke-width="1.15" />
<line x1="244.50" y1="730.50" x2="288.00" y2="706.00" stroke="#0a0a0a" stroke-width="1.15" />
<line x1="67.50" y1="515.00" x2="110.00" y2="492.50" stroke="#333" stroke-width="0.8" stroke-dasharray="6 4"/>
<line x1="67.50" y1="548.75" x2="128.00" y2="517.00" stroke="#333" stroke-width="0.8" stroke-dasharray="6 4"/>
<line x1="261.75" y1="675.00" x2="300.00" y2="654.00" stroke="#333" stroke-width="0.8" stroke-dasharray="6 4"/>
<line x1="260.50" y1="706.25" x2="322.00" y2="673.00" stroke="#333" stroke-width="0.8" stroke-dasharray="6 4"/>
<line x1="325.20" y1="688.00" x2="325.20" y2="709.50" stroke="#0a0a0a" stroke-width="1.0" stroke-dasharray="5 2.5"/>
<text class="s" x="235.00" y="14.46" font-size="11" textLength="32.50" lengthAdjust="spacingAndGlyphs">92154</text>
<text class="s" x="261.00" y="31.96" font-size="11" textLength="32.00" lengthAdjust="spacingAndGlyphs">92154</text>
<text class="s" x="296.00" y="20.96" font-size="11" textLength="39.50" lengthAdjust="spacingAndGlyphs">92161A</text>
<text class="s" x="137.50" y="50.96" font-size="11" textLength="32.50" lengthAdjust="spacingAndGlyphs">55020</text>
<text class="s" x="34.50" y="105.96" font-size="11" textLength="33.00" lengthAdjust="spacingAndGlyphs">92043</text>
<text class="s" x="32.00" y="132.96" font-size="11" textLength="33.00" lengthAdjust="spacingAndGlyphs">53009</text>
<text class="s" x="162.00" y="125.26" font-size="11" textLength="32.00" lengthAdjust="spacingAndGlyphs">92139</text>
<text class="s" x="148.75" y="153.46" font-size="11" textLength="32.25" lengthAdjust="spacingAndGlyphs">92139</text>
<text class="s" x="120.00" y="166.96" font-size="11" textLength="18.00" lengthAdjust="spacingAndGlyphs">411</text>
<text class="s" x="120.00" y="187.96" font-size="11" textLength="32.00" lengthAdjust="spacingAndGlyphs">92033</text>
<text class="s" x="49.00" y="186.96" font-size="11" textLength="32.00" lengthAdjust="spacingAndGlyphs">92210</text>
<text class="s" x="208.70" y="171.96" font-size="11" textLength="39.30" lengthAdjust="spacingAndGlyphs">92043A</text>
<text class="s" x="176.00" y="189.56" font-size="11" textLength="39.50" lengthAdjust="spacingAndGlyphs">92210A</text>
<text class="s" x="262.50" y="220.66" font-size="11" textLength="32.50" lengthAdjust="spacingAndGlyphs">27016</text>
<text class="s" x="153.50" y="205.96" font-size="11" textLength="32.50" lengthAdjust="spacingAndGlyphs">92022</text>
<text class="s" x="121.75" y="220.96" font-size="11" textLength="31.25" lengthAdjust="spacingAndGlyphs">11056</text>
<text class="s" x="93.00" y="238.96" font-size="11" textLength="31.50" lengthAdjust="spacingAndGlyphs">92161</text>
<text class="s" x="60.00" y="258.46" font-size="11" textLength="32.00" lengthAdjust="spacingAndGlyphs">92022</text>
<text class="s" x="33.75" y="275.71" font-size="11" textLength="32.50" lengthAdjust="spacingAndGlyphs">11065</text>
<text class="s" x="77.50" y="312.71" font-size="11" textLength="32.00" lengthAdjust="spacingAndGlyphs">92027</text>
<text class="s" x="45.75" y="331.96" font-size="11" textLength="32.50" lengthAdjust="spacingAndGlyphs">92015</text>
<text class="s" x="162.50" y="276.96" font-size="11" textLength="32.50" lengthAdjust="spacingAndGlyphs">92075</text>
<text class="s" x="86.25" y="379.71" font-size="11" textLength="18.25" lengthAdjust="spacingAndGlyphs">130</text>
<text class="s" x="535.50" y="14.46" font-size="11" textLength="32.50" lengthAdjust="spacingAndGlyphs">92154</text>
<text class="s" x="572.50" y="21.46" font-size="11" textLength="31.75" lengthAdjust="spacingAndGlyphs">92154</text>
<text class="s" x="591.00" y="39.46" font-size="11" textLength="39.00" lengthAdjust="spacingAndGlyphs">92161A</text>
<text class="s" x="444.00" y="48.96" font-size="11" textLength="39.50" lengthAdjust="spacingAndGlyphs">55020A</text>
<text class="s" x="322.00" y="112.96" font-size="11" textLength="33.00" lengthAdjust="spacingAndGlyphs">92043</text>
<text class="s" x="320.00" y="139.96" font-size="11" textLength="32.75" lengthAdjust="spacingAndGlyphs">53009</text>
<text class="s" x="456.75" y="126.46" font-size="11" textLength="33.25" lengthAdjust="spacingAndGlyphs">92139</text>
<text class="s" x="436.00" y="158.96" font-size="11" textLength="32.00" lengthAdjust="spacingAndGlyphs">92139</text>
<text class="s" x="408.00" y="173.96" font-size="11" textLength="17.50" lengthAdjust="spacingAndGlyphs">411</text>
<text class="s" x="408.00" y="193.46" font-size="11" textLength="32.00" lengthAdjust="spacingAndGlyphs">92033</text>
<text class="s" x="334.75" y="194.71" font-size="11" textLength="32.25" lengthAdjust="spacingAndGlyphs">92210</text>
<text class="s" x="516.75" y="163.96" font-size="11" textLength="38.75" lengthAdjust="spacingAndGlyphs">92043A</text>
<text class="s" x="484.25" y="182.71" font-size="11" textLength="39.50" lengthAdjust="spacingAndGlyphs">92210A</text>
<text class="s" x="461.00" y="197.71" font-size="11" textLength="31.50" lengthAdjust="spacingAndGlyphs">92022</text>
<text class="s" x="572.50" y="215.21" font-size="11" textLength="31.75" lengthAdjust="spacingAndGlyphs">27016</text>
<text class="s" x="429.75" y="213.96" font-size="11" textLength="31.75" lengthAdjust="spacingAndGlyphs">11056</text>
<text class="s" x="401.50" y="231.96" font-size="11" textLength="31.50" lengthAdjust="spacingAndGlyphs">92161</text>
<text class="s" x="368.00" y="251.46" font-size="11" textLength="32.50" lengthAdjust="spacingAndGlyphs">92022</text>
<text class="s" x="342.25" y="268.96" font-size="11" textLength="32.00" lengthAdjust="spacingAndGlyphs">11065</text>
<text class="s" x="385.50" y="305.96" font-size="11" textLength="32.50" lengthAdjust="spacingAndGlyphs">92027</text>
<text class="s" x="353.50" y="325.21" font-size="11" textLength="33.25" lengthAdjust="spacingAndGlyphs">92015</text>
<text class="s" x="470.80" y="269.96" font-size="11" textLength="32.20" lengthAdjust="spacingAndGlyphs">92075</text>
<text class="s" x="399.00" y="335.21" font-size="11" textLength="18.25" lengthAdjust="spacingAndGlyphs">130</text>
<text class="s" x="195.50" y="390.21" font-size="11" textLength="32.50" lengthAdjust="spacingAndGlyphs">92043</text>
<text class="s" x="178.00" y="413.96" font-size="11" textLength="33.00" lengthAdjust="spacingAndGlyphs">92210</text>
<text class="s" x="91.25" y="425.96" font-size="11" textLength="32.50" lengthAdjust="spacingAndGlyphs">92139</text>
<text class="s" x="91.25" y="461.96" font-size="11" textLength="32.50" lengthAdjust="spacingAndGlyphs">92139</text>
<text class="s" x="204.25" y="458.46" font-size="11" textLength="33.25" lengthAdjust="spacingAndGlyphs">53009</text>
<text class="s" x="196.00" y="475.21" font-size="11" textLength="17.50" lengthAdjust="spacingAndGlyphs">411</text>
<text class="s" x="195.00" y="493.46" font-size="11" textLength="33.00" lengthAdjust="spacingAndGlyphs">92033</text>
<text class="s" x="20.00" y="503.96" font-size="11" textLength="32.50" lengthAdjust="spacingAndGlyphs">92154</text>
<text class="s" x="0.75" y="547.21" font-size="11" textLength="32.25" lengthAdjust="spacingAndGlyphs">92154</text>
<text class="s" x="62.00" y="595.96" font-size="11" textLength="33.00" lengthAdjust="spacingAndGlyphs">55020</text>
<text class="s" x="34.50" y="612.71" font-size="11" textLength="40.00" lengthAdjust="spacingAndGlyphs">92161A</text>
<text class="s" x="126.25" y="633.46" font-size="11" textLength="33.00" lengthAdjust="spacingAndGlyphs">27016</text>
<text class="s" x="272.50" y="486.96" font-size="11" textLength="31.75" lengthAdjust="spacingAndGlyphs">11056</text>
<text class="s" x="299.25" y="473.96" font-size="11" textLength="31.75" lengthAdjust="spacingAndGlyphs">92161</text>
<text class="s" x="245.50" y="505.21" font-size="11" textLength="32.00" lengthAdjust="spacingAndGlyphs">92022</text>
<text class="s" x="213.50" y="521.96" font-size="11" textLength="39.50" lengthAdjust="spacingAndGlyphs">92210A</text>
<text class="s" x="184.25" y="540.21" font-size="11" textLength="39.25" lengthAdjust="spacingAndGlyphs">92043A</text>
<text class="s" x="248.50" y="580.96" font-size="11" textLength="32.50" lengthAdjust="spacingAndGlyphs">92075</text>
<text class="s" x="407.25" y="413.96" font-size="11" textLength="32.50" lengthAdjust="spacingAndGlyphs">11065</text>
<text class="s" x="378.00" y="429.46" font-size="11" textLength="33.00" lengthAdjust="spacingAndGlyphs">92015</text>
<text class="s" x="353.50" y="443.21" font-size="11" textLength="32.00" lengthAdjust="spacingAndGlyphs">92022</text>
<text class="s" x="329.00" y="458.21" font-size="11" textLength="32.75" lengthAdjust="spacingAndGlyphs">92027</text>
<text class="s" x="481.25" y="450.96" font-size="11" textLength="18.00" lengthAdjust="spacingAndGlyphs">130</text>
<text class="s" x="382.75" y="555.71" font-size="11" textLength="32.75" lengthAdjust="spacingAndGlyphs">92043</text>
<text class="s" x="364.00" y="578.96" font-size="11" textLength="33.25" lengthAdjust="spacingAndGlyphs">92210</text>
<text class="s" x="278.50" y="590.21" font-size="11" textLength="32.50" lengthAdjust="spacingAndGlyphs">92139</text>
<text class="s" x="278.50" y="625.96" font-size="11" textLength="32.00" lengthAdjust="spacingAndGlyphs">92139</text>
<text class="s" x="392.25" y="622.71" font-size="11" textLength="32.00" lengthAdjust="spacingAndGlyphs">53009</text>
<text class="s" x="383.50" y="639.46" font-size="11" textLength="17.50" lengthAdjust="spacingAndGlyphs">411</text>
<text class="s" x="382.75" y="650.71" font-size="11" textLength="32.75" lengthAdjust="spacingAndGlyphs">92033</text>
<text class="s" x="220.00" y="660.96" font-size="11" textLength="32.50" lengthAdjust="spacingAndGlyphs">92154</text>
<text class="s" x="201.00" y="700.21" font-size="11" textLength="32.00" lengthAdjust="spacingAndGlyphs">92154</text>
<text class="s" x="226.75" y="770.21" font-size="11" textLength="39.50" lengthAdjust="spacingAndGlyphs">92161A</text>
<text class="s" x="252.50" y="753.21" font-size="11" textLength="39.75" lengthAdjust="spacingAndGlyphs">55020A</text>
<text class="s" x="326.00" y="787.71" font-size="11" textLength="32.50" lengthAdjust="spacingAndGlyphs">27016</text>
<text class="s" x="462.25" y="646.71" font-size="11" textLength="31.75" lengthAdjust="spacingAndGlyphs">11056</text>
<text class="s" x="436.00" y="664.71" font-size="11" textLength="32.00" lengthAdjust="spacingAndGlyphs">92022</text>
<text class="s" x="404.75" y="681.46" font-size="11" textLength="38.75" lengthAdjust="spacingAndGlyphs">92210A</text>
<text class="s" x="374.75" y="698.96" font-size="11" textLength="39.50" lengthAdjust="spacingAndGlyphs">92043A</text>
<text class="s" x="451.50" y="730.21" font-size="11" textLength="32.75" lengthAdjust="spacingAndGlyphs">92075</text>
<text class="s" x="593.75" y="575.21" font-size="11" textLength="31.75" lengthAdjust="spacingAndGlyphs">11065</text>
<text class="s" x="567.50" y="588.96" font-size="11" textLength="32.25" lengthAdjust="spacingAndGlyphs">92015</text>
<text class="s" x="542.50" y="602.71" font-size="11" textLength="31.75" lengthAdjust="spacingAndGlyphs">92022</text>
<text class="s" x="518.50" y="617.71" font-size="11" textLength="32.50" lengthAdjust="spacingAndGlyphs">92027</text>
<text class="s" x="488.75" y="633.96" font-size="11" textLength="31.75" lengthAdjust="spacingAndGlyphs">92161</text>
<text class="s" x="576.75" y="736.96" font-size="11" textLength="18.25" lengthAdjust="spacingAndGlyphs">130</text>
<text class="s" x="575.50" y="7.94" font-size="9" textLength="28.75" lengthAdjust="spacingAndGlyphs">F2690</text>
<text class="m" x="30.50" y="347.38" font-size="11" textLength="65.75" lengthAdjust="spacingAndGlyphs">Ref.Guards</text>
<text class="m" x="58.00" y="359.88" font-size="11" textLength="65.25" lengthAdjust="spacingAndGlyphs">/Cab Frame</text>
<text class="m" x="469.75" y="355.63" font-size="11" textLength="133.25" lengthAdjust="spacingAndGlyphs">Ref.Guards/Cab Frame</text>
<text class="m" x="496.75" y="408.63" font-size="11" textLength="133.25" lengthAdjust="spacingAndGlyphs">Ref.Guards/Cab Frame</text>
<text class="m" x="249.25" y="451.13" font-size="11" textLength="60.00" lengthAdjust="spacingAndGlyphs">Ref.Frame</text>
<text class="m" x="43.00" y="776.13" font-size="11" textLength="59.50" lengthAdjust="spacingAndGlyphs">Ref.Frame</text>
<text class="m" x="490.50" y="779.38" font-size="11" textLength="133.25" lengthAdjust="spacingAndGlyphs">Ref.Guards/Cab Frame</text>
<circle cx="134.50" cy="136.00" r="8.6" fill="#fff" stroke="#0a0a0a" stroke-width="1.0"/>
<text class="s" x="134.50" y="139.70" font-size="10.5" text-anchor="middle">A</text>
<circle cx="268.00" cy="284.50" r="8.6" fill="#fff" stroke="#0a0a0a" stroke-width="1.0"/>
<text class="s" x="268.00" y="288.20" font-size="10.5" text-anchor="middle">A</text>
<circle cx="430.25" cy="138.75" r="8.6" fill="#fff" stroke="#0a0a0a" stroke-width="1.0"/>
<text class="s" x="430.25" y="142.45" font-size="10.5" text-anchor="middle">B</text>
<circle cx="344.50" cy="337.70" r="8.6" fill="#fff" stroke="#0a0a0a" stroke-width="1.0"/>
<text class="s" x="344.50" y="341.40" font-size="10.5" text-anchor="middle">B</text>
<circle cx="150.00" cy="440.00" r="8.6" fill="#fff" stroke="#0a0a0a" stroke-width="1.0"/>
<text class="s" x="150.00" y="443.70" font-size="10.5" text-anchor="middle">C</text>
<circle cx="29.50" cy="630.50" r="8.6" fill="#fff" stroke="#0a0a0a" stroke-width="1.0"/>
<text class="s" x="29.50" y="634.20" font-size="10.5" text-anchor="middle">C</text>
<circle cx="338.00" cy="605.50" r="8.6" fill="#fff" stroke="#0a0a0a" stroke-width="1.0"/>
<text class="s" x="338.00" y="609.20" font-size="10.5" text-anchor="middle">D</text>
<circle cx="106.00" cy="678.50" r="8.6" fill="#fff" stroke="#0a0a0a" stroke-width="1.0"/>
<text class="s" x="106.00" y="682.20" font-size="10.5" text-anchor="middle">D</text>
<g opacity="0.185">
<mask id="gm"><rect x="400" y="200" width="200" height="150" fill="#fff"/><circle cx="483.7" cy="264.7" r="12.2" fill="none" stroke="#000" stroke-width="4.4" stroke-dasharray="5.2 4.4"/><circle cx="483.7" cy="264.7" r="8.2" fill="none" stroke="#000" stroke-width="4.6"/></mask>
<path mask="url(#gm)" d="M500,224 Q511,246 524.5,261 Q523.5,270 519,274.5 Q500,290 471,300.5 L450,311 L438,292 Q474,262 500,224 Z" fill="#000"/>
</g>
</svg>
<svg width="420" height="100" style="position:absolute;left:0;top:0;transform-origin:0 0;transform:matrix3d(1.046185,-0.600732,0,0.00018678,0.669409,2.021865,0,0.00229596,0,0,1,0,96.5000,490.5000,0,1);opacity:0.185;overflow:visible"><g fill="none" stroke="#000" stroke-width="12" stroke-linejoin="round" stroke-linecap="butt"><path transform="translate(0,0)" d="M6.0,73 L6.0,6.0 L25.5,6.0 L25.5,50 L6.0,50"/><path transform="translate(34,0)" d="M6.0,15 L23.5,15 L23.5,73 M23.5,42 L6.0,42 L6.0,67 L23.5,67"/><path transform="translate(66,0)" d="M6.0,73 L6.0,9 M6.0,15 L19.5,15"/><path transform="translate(90,0)" d="M8.75,-2 L8.75,67 L16.5,67 M0,15 L17.5,15"/><path transform="translate(110,0)" d="M26.5,15 L6.0,15 L6.0,41 L26.5,41 L26.5,67 L6.0,67"/><path transform="translate(145,0)" d="M6.0,73 L6.0,6.0 L34.5,6.0 L34.5,38 L6.0,38 M22.5,38 L36.5,73"/><path transform="translate(190,0)" d="M23.5,67 L6.0,67 L6.0,15 L23.5,15 L23.5,41 L6.0,41"/><path transform="translate(222,0)" d="M6.0,93 L6.0,15 L24.5,15 L24.5,67 L6.0,67"/><path transform="translate(255,0)" d="M6.0,9 L6.0,67 L22.5,67 M22.5,9 L22.5,73"/><path transform="translate(286,0)" d="M6.0,0 L6.0,67 L24.0,67 L24.0,15 L6.0,15"/><path transform="translate(318.5,0)" d="M8.25,0 L8.25,73"/><path transform="translate(337.5,0)" d="M7.5,9 L7.5,73 M7.5,-8 L7.5,2"/><path transform="translate(355,0)" d="M6.0,0 L6.0,73 M42.5,9 L12.0,44 L46.5,73"/></g></svg>
</body></html>
